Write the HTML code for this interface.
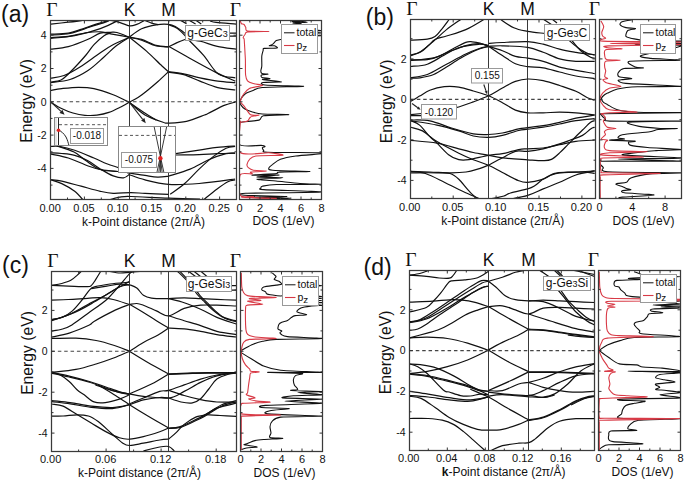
<!DOCTYPE html>
<html><head><meta charset="utf-8"><style>
html,body{margin:0;padding:0;background:#fff;}
svg{display:block;}
text{font-family:"Liberation Sans", sans-serif;fill:#111;}
.ser{font-family:"Liberation Serif", serif;}
</style></head><body>
<svg width="685" height="483" viewBox="0 0 685 483">
<defs></defs>
<clipPath id="cba"><rect x="50.5" y="20.5" width="186.0" height="179.0"/></clipPath>
<clipPath id="cda"><rect x="239.5" y="20.5" width="82.0" height="179.0"/></clipPath>
<g clip-path="url(#cba)" fill="none" stroke="#111" stroke-width="1.2">
<path d="M50.9,24.1C53.8,23.8 63.0,22.8 68.3,22.2C73.5,21.6 79.5,20.8 82.4,20.3C85.4,19.8 85.4,19.2 86.0,19.0"/>
<path d="M98.0,19.0C99.3,19.1 102.8,19.4 106.0,19.8C109.2,20.2 113.1,20.6 117.0,21.6C120.9,22.6 126.1,25.3 129.4,25.8C132.7,26.3 134.3,25.2 136.7,24.4C139.1,23.6 141.9,21.8 143.6,20.9C145.3,20.0 146.4,19.3 147.0,19.0"/>
<path d="M50.9,34.1C53.8,33.9 62.6,34.1 68.3,33.1C74.0,32.1 79.6,29.7 84.9,28.0C90.2,26.3 96.2,24.1 100.3,22.9C104.4,21.6 107.3,21.1 109.3,20.5C111.2,19.9 111.5,19.2 112.0,19.0"/>
<path d="M50.9,35.0C54.1,34.8 63.5,34.8 70.0,33.5C76.5,32.2 83.9,29.0 90.0,27.0C96.1,25.0 103.5,22.9 106.8,21.6C110.1,20.3 109.5,19.4 110.0,19.0"/>
<path d="M50.9,37.6C53.8,37.4 62.2,37.1 68.3,36.3C74.4,35.4 82.2,33.2 87.5,32.5C92.8,31.8 96.5,31.6 100.3,31.8C104.1,32.0 105.8,32.9 110.6,33.8C115.4,34.7 126.3,36.6 129.4,37.2"/>
<path d="M50.9,38.3C54.9,37.9 66.5,37.3 74.7,35.7C82.9,34.1 93.5,31.0 100.3,28.6C107.1,26.2 112.8,23.2 115.8,21.6C118.8,20.0 117.9,19.4 118.3,19.0"/>
<path d="M50.9,49.2C53.8,48.8 62.2,48.2 68.3,46.6C74.4,45.0 82.2,41.8 87.5,39.5C92.8,37.2 96.5,34.3 100.3,33.1C104.1,31.9 107.8,32.4 110.6,32.3C113.4,32.2 113.9,31.7 117.0,32.5C120.1,33.3 127.3,36.4 129.4,37.2"/>
<path d="M50.9,78.1C53.1,77.7 59.1,77.3 64.0,75.5C68.8,73.7 74.0,70.8 80.0,67.0C86.0,63.2 94.5,56.7 100.0,53.0C105.5,49.3 108.1,47.3 113.0,44.7C117.9,42.1 126.7,38.5 129.4,37.2"/>
<path d="M50.9,82.6C54.1,82.1 63.8,81.5 70.0,79.5C76.2,77.5 82.3,74.2 88.0,70.5C93.7,66.8 99.3,61.1 104.0,57.0C108.7,52.9 111.8,49.3 116.0,46.0C120.2,42.7 127.2,38.7 129.4,37.2"/>
<path d="M50.9,82.0C52.6,81.7 58.1,81.3 61.0,80.0C63.9,78.7 65.5,76.7 68.3,74.0C71.1,71.3 75.0,67.2 78.0,64.0C81.0,60.8 83.3,58.2 86.0,55.0C88.7,51.8 91.0,47.9 94.0,44.7C97.0,41.5 101.2,37.7 104.0,35.7C106.8,33.8 109.5,33.5 110.6,33.0"/>
<path d="M129.4,37.0C131.4,35.6 137.1,30.7 141.6,28.7C146.1,26.7 151.7,25.5 156.2,24.8C160.7,24.1 165.4,24.1 168.7,24.4C171.9,24.7 172.9,25.3 175.7,26.8C178.5,28.3 183.0,31.7 185.4,33.6C187.8,35.5 189.2,37.3 190.0,38.0"/>
<path d="M168.7,24.8C170.1,25.4 174.6,26.6 177.4,28.5C180.2,30.4 184.1,34.8 185.4,36.1"/>
<path d="M143.6,20.0C145.1,20.6 149.9,22.6 152.3,23.4C154.7,24.2 157.1,24.4 158.0,24.6"/>
<path d="M129.4,37.2C131.4,37.6 137.1,38.0 141.6,39.4C146.1,40.8 151.7,44.1 156.2,45.3C160.7,46.5 166.6,46.5 168.7,46.8"/>
<path d="M129.4,37.2C131.4,37.7 137.1,38.7 141.6,40.2C146.1,41.7 151.7,44.9 156.2,46.0C160.7,47.1 166.6,46.7 168.7,46.8"/>
<path d="M129.4,37.2C132.2,39.5 141.1,46.3 146.5,51.1C151.9,55.9 158.3,62.6 162.0,66.0C165.7,69.4 167.4,70.8 168.5,71.7"/>
<path d="M168.7,46.8C170.2,46.1 174.8,43.6 177.6,42.4C180.4,41.1 184.1,39.8 185.4,39.3"/>
<path d="M168.5,46.3C171.9,48.2 180.7,53.2 188.8,57.7C196.9,62.2 209.6,69.2 217.3,73.1C225.1,77.0 232.3,79.8 235.3,81.1"/>
<path d="M185.4,39.3C187.9,39.6 194.9,40.0 200.2,41.2C205.5,42.4 211.3,45.0 217.3,46.3C223.3,47.6 232.9,48.7 236.0,49.2"/>
<path d="M188.8,40.1C191.3,42.6 198.7,49.8 203.6,55.4C208.5,61.0 213.1,70.3 218.4,74.0C223.7,77.7 232.5,77.2 235.3,77.8"/>
<path d="M178.0,19.0L186.5,23.6"/>
<path d="M187.0,19.0L195.6,24.1"/>
<path d="M194.0,19.0L201.3,24.1"/>
<path d="M210.0,21.0C211.0,21.2 211.8,21.9 216.1,22.4C220.4,22.9 232.7,23.8 236.0,24.1"/>
<path d="M225.0,33.2L236.0,33.2"/>
<path d="M225.0,36.1L236.0,36.1"/>
<path d="M50.9,90.3C52.7,90.0 57.2,89.1 61.8,88.6C66.4,88.1 73.2,87.3 78.5,87.3C83.8,87.3 88.1,87.3 93.9,88.6C99.7,89.8 107.3,92.5 113.2,94.8C119.1,97.1 126.5,101.0 129.2,102.3"/>
<path d="M50.8,102.2C52.5,103.2 57.3,106.4 61.0,108.2C64.7,110.0 68.9,111.8 72.9,113.0C76.9,114.2 80.9,115.0 84.9,115.3C88.9,115.6 92.9,115.6 96.9,115.1C100.9,114.6 104.9,113.8 108.9,112.4C112.9,111.1 117.4,108.7 120.8,107.0C124.2,105.3 127.8,103.1 129.2,102.3"/>
<path d="M129.2,102.3C130.7,101.5 134.9,99.5 138.0,97.5C141.1,95.5 144.7,92.7 148.0,90.0C151.3,87.3 154.6,84.5 158.0,81.5C161.4,78.5 166.8,73.3 168.5,71.7"/>
<path d="M168.5,71.7C171.0,72.0 178.5,72.8 183.7,73.8C188.9,74.8 194.2,76.6 199.9,77.8C205.6,79.0 211.9,80.3 217.8,81.1C223.7,81.9 232.4,82.4 235.3,82.7"/>
<path d="M168.5,72.2C171.0,72.6 178.5,73.1 183.7,74.6C188.9,76.1 194.2,78.9 199.9,81.1C205.6,83.3 211.9,86.1 217.8,87.6C223.7,89.1 232.4,89.6 235.3,90.0"/>
<path d="M129.2,102.3C131.8,104.4 139.4,111.7 145.0,115.0C150.6,118.3 159.1,120.9 163.0,122.2C166.9,123.5 164.5,123.2 168.4,123.1C172.3,122.9 180.5,122.6 186.5,121.3C192.5,120.0 200.9,116.3 204.5,115.0C208.1,113.7 204.7,115.1 208.0,113.5C211.3,111.9 219.6,107.3 224.2,105.4C228.8,103.5 233.5,102.6 235.3,102.1"/>
<path d="M129.2,102.3C131.5,103.9 138.7,109.0 143.2,111.9C147.7,114.9 154.0,118.7 156.2,120.0"/>
<path d="M50.9,146.4C52.3,146.4 55.3,145.8 59.3,146.4C63.3,147.1 68.9,148.4 74.7,150.3C80.5,152.2 88.6,155.8 93.9,158.0C99.2,160.2 102.7,162.1 106.8,163.7C110.9,165.3 116.4,166.9 118.3,167.6"/>
<path d="M57.0,146.0C59.8,147.0 69.3,149.7 74.0,152.0C78.7,154.3 80.6,157.1 85.0,160.0C89.4,162.9 94.8,167.6 100.3,169.5C105.8,171.4 115.3,171.2 118.3,171.5"/>
<path d="M50.9,152.8C52.7,152.9 57.8,153.1 61.8,153.5C65.8,153.9 70.4,154.2 74.7,155.4C79.0,156.6 83.2,158.2 87.5,160.5C91.8,162.8 96.0,166.3 100.3,168.9C104.6,171.5 109.3,174.4 113.2,175.9C117.1,177.4 120.7,178.2 123.5,177.9C126.3,177.6 128.8,174.7 129.9,174.0"/>
<path d="M50.9,154.1C53.8,154.8 62.2,156.1 68.3,158.0C74.4,159.9 82.2,163.8 87.5,165.7C92.8,167.6 95.2,168.5 100.3,169.5C105.4,170.5 115.3,171.2 118.3,171.5"/>
<path d="M50.9,179.8C52.7,180.0 56.8,180.0 61.8,181.1C66.8,182.2 74.7,184.5 81.1,186.2C87.5,187.9 94.9,190.1 100.3,191.3C105.7,192.5 108.1,193.1 113.2,193.3C118.3,193.5 125.7,192.6 131.0,192.6C136.3,192.6 138.8,193.1 145.0,193.4C151.2,193.7 164.5,194.2 168.4,194.3"/>
<path d="M50.9,179.8C52.7,180.4 57.8,181.7 61.8,183.6C65.8,185.5 71.0,188.5 74.7,191.3C78.4,194.2 82.2,199.1 83.7,200.7"/>
<path d="M106.8,200.5C108.9,199.9 115.6,197.8 119.6,197.1C123.6,196.4 122.9,196.3 131.0,196.5C139.1,196.7 156.9,197.8 168.4,198.2C179.9,198.6 194.7,198.9 200.0,199.0"/>
<path d="M175.6,153.7C179.5,153.1 192.2,151.1 199.1,150.1C206.0,149.1 211.1,148.1 217.1,147.4C223.1,146.7 232.1,146.2 235.1,146.0"/>
<path d="M175.6,155.0C179.5,154.9 192.2,154.8 199.1,154.6C206.0,154.4 211.1,153.9 217.1,153.7C223.1,153.5 232.1,153.3 235.1,153.2"/>
<path d="M168.4,176.3C172.0,175.1 183.5,171.8 190.1,169.1C196.7,166.4 202.1,162.6 208.1,160.0C214.1,157.4 221.6,154.8 226.1,153.7C230.6,152.6 233.6,153.3 235.1,153.2"/>
<path d="M170.2,194.3C172.6,192.5 179.9,187.7 184.7,183.5C189.5,179.3 194.3,173.6 199.1,169.1C203.9,164.6 209.0,159.9 213.5,156.4C218.0,152.9 222.5,150.0 226.1,148.3C229.7,146.7 233.6,146.8 235.1,146.5"/>
<path d="M128.8,174.5C131.5,175.4 138.4,178.2 145.0,179.9C151.6,181.6 159.4,183.8 168.4,184.4C177.4,185.0 188.0,184.4 199.1,183.5C210.2,182.6 229.1,179.8 235.1,179.0"/>
<path d="M127.0,172.7C130.0,173.1 139.9,174.7 145.0,175.4C150.1,176.2 153.7,177.0 157.6,177.2C161.5,177.3 166.6,176.5 168.4,176.3"/>
<path d="M202.7,200.5C205.1,198.6 212.9,192.0 217.1,188.9C221.3,185.8 224.9,183.2 227.9,181.7C230.9,180.2 233.9,180.2 235.1,179.9"/>
</g>
<line x1="50.5" y1="101.8" x2="236.5" y2="101.8" stroke="#444" stroke-width="1.1" stroke-dasharray="3.5 2.85"/>
<line x1="129.5" y1="20.5" x2="129.5" y2="199.5" stroke="#222" stroke-width="0.9"/>
<line x1="168.5" y1="20.5" x2="168.5" y2="199.5" stroke="#222" stroke-width="0.9"/>
<g clip-path="url(#cda)" fill="none" stroke-width="1.1" stroke-linejoin="round">
<path d="M306.0,20.8C304.2,20.9 291.9,21.3 292.0,21.5C292.1,21.7 306.9,22.0 307.0,22.2C307.1,22.4 293.8,22.7 293.0,22.9C292.2,23.1 301.4,23.3 301.0,23.6C300.6,23.9 291.6,24.4 290.0,25.0C288.4,25.6 284.1,27.3 288.0,28.0C291.9,28.7 321.2,30.2 321.5,30.6C321.8,31.0 290.0,30.9 290.0,31.2C290.0,31.5 321.6,32.7 321.5,33.0C321.4,33.3 289.0,33.5 289.0,33.8C289.0,34.1 321.8,35.3 321.5,35.6C321.2,35.9 291.6,36.2 287.0,36.4C282.4,36.6 285.7,37.1 285.0,37.5C284.3,37.9 282.6,38.9 281.5,39.3C280.4,39.7 277.4,40.0 276.3,40.6C275.2,41.2 273.7,43.5 272.8,44.1C271.9,44.8 269.1,45.6 269.3,45.8C269.5,46.0 273.5,45.5 274.5,45.8C275.5,46.1 278.4,47.7 277.1,48.0C275.8,48.3 265.8,48.1 264.1,48.4C262.4,48.7 263.5,49.2 263.2,50.2C262.9,51.2 262.0,54.0 261.8,56.0C261.6,58.0 261.9,64.1 261.8,66.0C261.7,67.9 260.8,70.1 260.8,71.0C260.8,71.9 261.1,73.1 262.0,73.5C262.9,73.9 268.1,74.0 268.0,74.2C267.9,74.4 262.2,74.6 261.5,75.0C260.8,75.4 260.9,77.1 262.0,77.5C263.1,77.9 269.9,78.2 270.0,78.5C270.1,78.8 261.1,79.1 262.5,79.5C263.9,79.9 281.4,81.4 281.5,81.8C281.6,82.2 265.1,82.1 263.0,82.5C260.9,82.9 259.9,84.5 265.0,85.0C270.1,85.5 303.9,86.0 303.6,86.3C303.3,86.6 268.7,87.0 262.3,87.5C255.9,88.0 254.4,90.0 252.4,90.7C250.4,91.4 247.7,92.3 246.5,93.0C245.3,93.7 243.7,95.3 243.0,96.0C242.3,96.7 241.6,97.8 241.2,98.5C240.8,99.2 239.8,100.8 239.8,101.7C239.8,102.6 240.6,104.5 241.2,105.4C241.8,106.3 243.5,108.3 244.9,109.1C246.3,109.9 250.2,111.4 252.4,112.0C254.6,112.6 257.8,113.7 262.3,114.0C266.8,114.3 288.6,114.4 288.7,114.6C288.8,114.8 267.1,115.1 263.4,115.8C259.7,116.5 261.9,119.3 259.1,120.1C256.3,120.9 243.6,121.9 241.2,122.2C238.8,122.5 239.7,119.7 239.5,122.5C239.3,125.3 236.8,141.6 239.5,144.5C242.2,147.4 257.9,145.2 261.1,145.4C264.3,145.6 264.8,146.1 265.0,146.4C265.2,146.7 262.6,147.2 262.4,147.7C262.2,148.2 263.1,149.7 263.7,150.3C264.3,150.9 260.3,151.9 267.5,152.2C274.7,152.5 314.8,152.6 321.5,152.8C328.2,153.0 324.7,153.4 321.5,153.8C318.3,154.2 300.9,155.3 295.8,156.0C290.7,156.7 283.3,158.2 280.4,159.3C277.5,160.4 274.1,163.3 272.7,164.4C271.2,165.5 268.8,167.5 268.8,168.2C268.8,168.9 267.6,169.8 272.7,170.2C277.8,170.6 309.1,171.3 309.9,171.5C310.7,171.7 283.3,171.8 279.1,172.1C274.9,172.3 279.9,173.1 276.5,173.5C273.1,173.9 251.7,175.0 252.0,175.2C252.3,175.4 278.4,174.8 279.0,175.0C279.6,175.2 256.5,176.7 257.0,177.0C257.5,177.3 283.0,177.5 283.0,177.8C283.0,178.1 257.9,178.8 257.0,179.2C256.1,179.6 270.6,180.5 276.0,181.0C281.4,181.5 294.3,183.1 300.0,183.5C305.7,183.9 324.4,184.2 321.5,184.3C318.6,184.4 283.9,184.3 276.5,184.5C269.1,184.7 264.3,185.8 262.4,186.2C260.5,186.6 260.9,187.7 261.1,188.1C261.3,188.5 256.1,189.1 263.7,189.6C271.2,190.1 323.8,191.5 321.5,192.0C319.2,192.5 255.3,192.9 245.7,193.3C236.1,193.7 239.3,194.8 244.4,195.2C249.5,195.6 286.5,196.3 286.8,196.5C287.1,196.7 246.6,196.9 247.0,197.1C247.4,197.3 289.6,197.9 290.0,198.2C290.4,198.5 255.0,199.3 250.0,199.5" stroke="#111"/>
<path d="M240.3,21.0C240.5,21.3 241.0,23.3 241.5,23.7C242.0,24.1 243.6,24.0 244.1,24.5C244.6,25.0 245.4,26.8 245.8,27.6C246.2,28.4 244.7,30.5 247.6,31.0C250.5,31.5 269.3,31.4 269.3,31.5C269.3,31.6 250.6,31.5 247.6,31.9C244.6,32.3 245.6,33.8 245.0,34.5C244.4,35.2 243.3,37.1 243.2,37.6C243.1,38.1 243.9,38.1 244.1,38.9C244.3,39.7 244.4,42.4 244.5,44.1C244.6,45.8 244.9,50.8 245.0,52.8C245.1,54.8 245.3,57.2 245.4,60.0C245.5,62.8 245.3,72.4 245.6,75.0C245.9,77.6 246.6,79.7 247.5,80.8C248.4,81.9 251.3,83.0 253.2,83.6C255.1,84.2 263.2,84.9 262.7,85.5C262.2,86.1 251.8,87.3 249.4,88.4C247.0,89.5 244.8,92.6 243.7,94.0C242.6,95.4 241.3,98.8 240.9,99.8C240.5,100.8 239.9,101.0 240.3,101.8C240.7,102.6 243.0,104.7 244.3,106.3C245.6,107.9 248.8,113.7 250.7,114.8C252.5,115.9 259.1,114.9 259.1,115.2C259.1,115.5 252.1,116.2 250.7,116.9C249.2,117.6 248.7,120.4 247.5,121.1C246.3,121.8 242.1,122.0 241.2,122.2C240.3,122.4 240.4,119.2 240.3,123.0C240.2,126.8 236.7,148.8 240.3,152.5C243.9,156.2 263.5,152.5 268.8,152.8C274.1,153.1 284.5,154.7 282.9,155.1C281.3,155.5 260.2,155.5 256.0,156.0C251.8,156.5 250.7,158.2 249.6,159.3C248.5,160.4 247.2,163.4 247.0,164.4C246.8,165.4 247.5,166.9 248.3,167.6C249.1,168.3 251.2,169.8 253.4,170.2C255.6,170.6 266.5,170.9 266.2,171.1C265.9,171.3 252.6,171.7 250.8,172.1C249.0,172.5 253.4,173.7 252.1,174.0C250.8,174.3 241.8,172.0 240.3,174.7C238.8,177.3 238.7,192.5 240.3,195.2C241.9,197.9 253.2,196.3 253.4,196.5C253.6,196.7 239.0,196.9 241.9,197.1C244.8,197.3 276.7,198.1 276.5,198.4C276.3,198.7 244.8,199.4 240.3,199.5" stroke="#d83a46"/>
</g>
<rect x="50.5" y="20.5" width="186.0" height="179.0" fill="none" stroke="#3a3a3a" stroke-width="1.25"/>
<rect x="239.5" y="20.5" width="82.0" height="179.0" fill="none" stroke="#3a3a3a" stroke-width="1.25"/>
<path d="M50.5,185.1h2M236.5,185.1h-2M239.5,185.1h2M321.5,185.1h-2M50.5,168.4h3M236.5,168.4h-3M239.5,168.4h3M321.5,168.4h-3M50.5,151.8h2M236.5,151.8h-2M239.5,151.8h2M321.5,151.8h-2M50.5,135.1h3M236.5,135.1h-3M239.5,135.1h3M321.5,135.1h-3M50.5,118.4h2M236.5,118.4h-2M239.5,118.4h2M321.5,118.4h-2M50.5,101.8h3M236.5,101.8h-3M239.5,101.8h3M321.5,101.8h-3M50.5,85.2h2M236.5,85.2h-2M239.5,85.2h2M321.5,85.2h-2M50.5,68.5h3M236.5,68.5h-3M239.5,68.5h3M321.5,68.5h-3M50.5,51.9h2M236.5,51.9h-2M239.5,51.9h2M321.5,51.9h-2M50.5,35.2h3M236.5,35.2h-3M239.5,35.2h3M321.5,35.2h-3M67.5,199.5v-2M67.5,20.5v2M84.4,199.5v-3M84.4,20.5v3M101.3,199.5v-2M101.3,20.5v2M118.2,199.5v-3M118.2,20.5v3M135.1,199.5v-2M135.1,20.5v2M152.0,199.5v-3M152.0,20.5v3M168.9,199.5v-2M168.9,20.5v2M185.8,199.5v-3M185.8,20.5v3M202.7,199.5v-2M202.7,20.5v2M219.6,199.5v-3M219.6,20.5v3M249.8,199.5v-2M249.8,20.5v2M260.0,199.5v-3M260.0,20.5v3M270.2,199.5v-2M270.2,20.5v2M280.5,199.5v-3M280.5,20.5v3M290.8,199.5v-2M290.8,20.5v2M301.0,199.5v-3M301.0,20.5v3M311.2,199.5v-2M311.2,20.5v2" stroke="#333" stroke-width="1" fill="none"/>
<text x="46.5" y="172.2" text-anchor="end" font-size="10.5">-4</text>
<text x="46.5" y="138.9" text-anchor="end" font-size="10.5">-2</text>
<text x="46.5" y="105.6" text-anchor="end" font-size="10.5">0</text>
<text x="46.5" y="72.3" text-anchor="end" font-size="10.5">2</text>
<text x="46.5" y="39.0" text-anchor="end" font-size="10.5">4</text>
<text x="50.1" y="212.4" text-anchor="middle" font-size="11">0.00</text>
<text x="83.9" y="212.4" text-anchor="middle" font-size="11">0.05</text>
<text x="117.7" y="212.4" text-anchor="middle" font-size="11">0.10</text>
<text x="151.5" y="212.4" text-anchor="middle" font-size="11">0.15</text>
<text x="185.3" y="212.4" text-anchor="middle" font-size="11">0.20</text>
<text x="219.1" y="212.4" text-anchor="middle" font-size="11">0.25</text>
<text x="239.5" y="212.4" text-anchor="middle" font-size="11">0</text>
<text x="260.0" y="212.4" text-anchor="middle" font-size="11">2</text>
<text x="280.5" y="212.4" text-anchor="middle" font-size="11">4</text>
<text x="301.0" y="212.4" text-anchor="middle" font-size="11">6</text>
<text x="321.5" y="212.4" text-anchor="middle" font-size="11">8</text>
<text x="143.4" y="225.8" text-anchor="middle" font-size="12">k-Point distance (2π/Å)</text>
<text x="283.6" y="225.3" text-anchor="middle" font-size="12">DOS (1/eV)</text>
<text transform="translate(31.5,100.8) rotate(-90)" text-anchor="middle" font-size="15.7">Energy (eV)</text>
<text x="52.0" y="15.7" text-anchor="middle" class="ser" font-size="19.5">Γ</text>
<text x="235.5" y="15.7" text-anchor="middle" class="ser" font-size="19.5">Γ</text>
<text x="129.5" y="15.7" text-anchor="middle" font-size="17.5">K</text>
<text x="168.5" y="15.7" text-anchor="middle" font-size="17.5">M</text>
<text x="1" y="22.0" font-size="23">(a)</text>
<rect x="185.5" y="25.5" width="44.0" height="15.0" fill="#fff" stroke="#999" stroke-width="1"/>
<text x="207.5" y="37.0" text-anchor="middle" font-size="12">g-GeC<tspan font-size="9">3</tspan></text>
<rect x="281.5" y="24.5" width="36.0" height="29.0" fill="#fff" stroke="#999" stroke-width="1"/>
<line x1="284.0" y1="32.8" x2="294.5" y2="32.8" stroke="#111" stroke-width="1"/>
<line x1="284.0" y1="45.5" x2="294.5" y2="45.5" stroke="#d83a46" stroke-width="1.1"/>
<text x="296.5" y="36.3" font-size="10.5">total</text>
<text x="296.5" y="48.5" font-size="10.5">p<tspan font-size="9.8" dy="2">z</tspan></text>
<clipPath id="cbb"><rect x="410.5" y="19.5" width="185.0" height="179.0"/></clipPath>
<clipPath id="cdb"><rect x="599.5" y="19.5" width="82.0" height="179.0"/></clipPath>
<g clip-path="url(#cbb)" fill="none" stroke="#111" stroke-width="1.2">
<path d="M410.6,40.1C413.4,40.0 423.2,39.8 427.3,39.2C431.4,38.6 432.6,38.2 435.0,36.6C437.4,35.0 439.0,32.5 441.4,29.6C443.8,26.8 447.8,21.2 449.1,19.5"/>
<path d="M410.6,55.2C412.3,54.6 417.0,53.8 420.8,51.4C424.6,49.0 429.4,44.7 433.7,41.1C438.0,37.5 442.0,33.2 446.5,29.6C451.0,26.0 458.3,21.2 460.7,19.5"/>
<path d="M410.6,55.8C412.3,55.1 417.9,53.6 421.0,51.8C424.1,50.0 426.7,47.0 429.0,45.0C431.3,43.0 432.1,41.0 435.0,39.5C437.9,38.0 441.4,37.6 446.5,36.0C451.6,34.4 459.6,32.4 465.8,29.6C472.0,26.9 480.8,21.2 483.8,19.5"/>
<path d="M410.6,59.7C413.4,59.7 422.4,60.3 427.3,59.7C432.2,59.1 435.8,57.7 440.1,55.9C444.4,54.1 448.7,51.0 453.0,48.8C457.3,46.5 462.6,43.6 465.8,42.4C469.0,41.2 469.9,41.7 472.2,41.8C474.5,41.9 477.2,42.2 479.9,43.0C482.6,43.8 487.1,45.8 488.5,46.3"/>
<path d="M410.6,60.4C414.5,60.0 427.7,59.1 433.7,57.8C439.7,56.5 441.1,54.7 446.5,52.7C451.9,50.7 460.4,47.1 465.8,45.6C471.2,44.1 474.8,43.7 478.6,43.7C482.4,43.7 486.9,45.3 488.5,45.6"/>
<path d="M410.6,66.5C413.4,66.1 421.7,66.1 427.3,64.2C432.9,62.3 438.6,58.0 444.0,55.2C449.4,52.4 453.6,49.3 459.4,47.5C465.2,45.7 473.8,44.6 478.6,44.3C483.5,44.0 486.9,45.4 488.5,45.6"/>
<path d="M410.6,77.7C413.4,77.2 421.3,76.8 427.3,74.5C433.3,72.2 440.1,67.6 446.5,64.2C452.9,60.8 460.4,56.6 465.8,54.0C471.2,51.4 474.8,50.1 478.6,48.8C482.4,47.5 486.9,46.7 488.5,46.3"/>
<path d="M410.6,78.2C412.2,78.1 416.1,78.4 420.0,77.8C423.9,77.2 429.3,76.3 433.7,74.5C438.1,72.7 442.1,69.7 446.5,67.0C450.9,64.3 455.7,61.0 460.0,58.5C464.3,56.0 468.9,53.6 472.2,52.0C475.5,50.4 477.3,49.7 480.0,48.8C482.7,47.9 487.1,46.9 488.5,46.5"/>
<path d="M500.0,19.0C502.3,20.5 509.2,25.7 513.8,27.8C518.4,29.9 522.5,30.4 527.7,31.4C532.9,32.4 542.0,33.1 544.9,33.5"/>
<path d="M488.5,43.5C490.8,43.3 495.9,42.8 502.4,42.5C508.9,42.2 520.9,41.4 527.7,41.7C534.5,42.0 537.9,43.0 543.2,44.2C548.5,45.4 554.2,47.8 559.6,49.1C565.0,50.5 570.0,51.3 575.9,52.3C581.8,53.2 591.6,54.4 594.7,54.8"/>
<path d="M488.5,46.3C490.8,46.2 495.9,45.6 502.4,45.8C508.9,46.0 520.9,46.3 527.7,47.4C534.5,48.5 537.9,50.4 543.2,52.3C548.5,54.2 554.2,57.4 559.6,58.9C565.0,60.4 570.0,60.9 575.9,61.3C581.8,61.7 591.6,61.3 594.7,61.3"/>
<path d="M488.5,46.3C490.8,47.0 497.9,49.0 502.4,50.7C506.9,52.4 511.2,55.2 515.4,56.4C519.6,57.6 523.1,57.3 527.7,58.1C532.3,58.9 537.9,59.8 543.2,61.3C548.5,62.8 554.2,65.6 559.6,67.1C565.0,68.6 570.0,69.2 575.9,70.3C581.8,71.4 591.6,73.0 594.7,73.6"/>
<path d="M488.5,46.3C490.8,47.8 497.9,52.7 502.4,55.6C506.9,58.5 511.2,61.9 515.4,63.8C519.6,65.6 523.1,66.0 527.7,66.7C532.3,67.4 537.9,67.0 543.2,67.9C548.5,68.8 554.2,70.7 559.6,72.0C565.0,73.3 570.0,74.9 575.9,76.0C581.8,77.1 591.6,78.1 594.7,78.5"/>
<path d="M567.8,39.3C569.4,40.6 574.3,45.1 577.6,47.4C580.9,49.7 584.5,52.0 587.4,53.2C590.2,54.4 593.5,54.5 594.7,54.8"/>
<path d="M571.0,39.3C572.6,41.2 577.5,47.7 580.8,50.7C584.1,53.7 588.3,56.0 590.6,57.2C592.9,58.4 594.0,58.0 594.7,58.1"/>
<path d="M543.0,19.0L551.4,24.5"/>
<path d="M552.0,19.0L557.0,23.0"/>
<path d="M410.9,101.2C412.3,100.3 416.5,97.9 419.6,96.1C422.8,94.3 425.7,91.9 429.8,90.3C433.9,88.7 439.5,87.2 444.3,86.7C449.1,86.2 454.0,86.4 458.8,87.1C463.6,87.8 468.4,89.5 473.3,91.0C478.2,92.5 483.6,93.8 488.5,95.8C493.4,97.8 497.9,100.3 502.4,102.7C506.9,105.1 511.2,108.4 515.4,110.1C519.6,111.8 523.1,112.3 527.7,112.8C532.3,113.2 537.9,112.9 543.2,112.8C548.5,112.7 554.2,112.2 559.6,112.2C565.0,112.2 570.0,112.3 575.9,112.8C581.8,113.3 591.6,114.6 594.7,115.0"/>
<path d="M421.8,108.5C424.8,108.7 434.3,109.6 440.0,109.5C445.7,109.4 450.3,109.0 455.9,107.7C461.4,106.4 467.9,103.9 473.3,101.9C478.7,99.9 483.6,98.1 488.5,95.8C493.4,93.5 497.9,90.4 502.4,88.0C506.9,85.6 511.2,82.9 515.4,81.4C519.6,79.9 523.1,79.1 527.7,79.0C532.3,78.9 537.9,79.5 543.2,80.6C548.5,81.7 554.2,83.7 559.6,85.5C565.0,87.3 571.3,89.2 575.9,91.3C580.5,93.3 584.3,96.3 587.4,97.8C590.5,99.3 593.5,99.8 594.7,100.2"/>
<path d="M410.9,115.7L421.8,115.7"/>
<path d="M410.9,114.6L421.8,113.5"/>
<path d="M410.9,120.0C414.0,120.1 423.0,119.5 429.8,120.8C436.6,122.1 444.2,125.8 451.5,128.0C458.8,130.2 467.1,132.7 473.3,133.8C479.5,134.9 483.6,134.6 488.5,134.5C493.4,134.4 497.4,133.9 502.4,133.0C507.4,132.1 514.5,129.8 518.7,128.9C522.9,128.0 523.6,128.2 527.7,127.6C531.8,127.0 537.9,126.5 543.2,125.6C548.5,124.7 554.2,123.5 559.6,122.3C565.0,121.1 570.0,119.4 575.9,118.2C581.8,117.0 591.6,115.5 594.7,115.0"/>
<path d="M410.9,120.8C415.2,121.5 429.0,123.4 437.0,125.1C445.0,126.8 452.8,129.1 458.8,130.9C464.9,132.7 468.4,134.9 473.3,136.0C478.2,137.1 483.6,137.5 488.5,137.4C493.4,137.3 497.4,136.6 502.4,135.4C507.4,134.2 514.5,131.5 518.7,130.5C522.9,129.5 523.6,129.8 527.7,129.2C531.8,128.6 537.9,128.1 543.2,127.2C548.5,126.3 554.2,125.1 559.6,124.0C565.0,122.9 570.0,121.6 575.9,120.7C581.8,119.8 591.6,119.0 594.7,118.7"/>
<path d="M410.9,127.3C412.8,127.9 418.1,128.5 422.5,130.9C426.9,133.3 430.9,137.9 437.0,141.6C443.1,145.3 452.8,150.2 458.8,153.2C464.9,156.2 468.4,157.7 473.3,159.7C478.2,161.7 483.6,163.1 488.5,165.2C493.4,167.3 497.4,169.9 502.4,172.5C507.4,175.1 514.5,179.1 518.7,180.7C522.9,182.3 523.6,182.6 527.7,182.3C531.8,182.0 539.2,180.3 543.2,179.1C547.2,177.9 548.7,176.1 551.4,175.0C554.1,173.9 555.5,173.3 559.6,172.8C563.7,172.3 570.0,172.5 575.9,172.2C581.8,171.9 591.6,171.1 594.7,170.9"/>
<path d="M410.9,120.8C412.3,121.5 416.5,122.4 419.6,125.1C422.8,127.8 426.9,133.7 429.8,136.7C432.7,139.7 433.9,140.1 437.0,143.1C440.1,146.1 445.0,151.9 448.6,154.7C452.2,157.5 455.4,158.9 458.8,159.7C462.2,160.5 463.9,160.4 468.9,159.7C473.8,159.0 482.9,156.3 488.5,155.3C494.1,154.3 497.4,154.6 502.4,153.7C507.4,152.8 514.5,150.4 518.7,149.6C522.9,148.8 523.6,149.1 527.7,148.8C531.8,148.5 537.9,148.7 543.2,148.0C548.5,147.3 554.2,145.8 559.6,144.7C565.0,143.6 570.0,142.2 575.9,141.4C581.8,140.6 591.6,140.3 594.7,140.1"/>
<path d="M410.9,140.4C415.2,140.8 429.0,141.7 437.0,143.1C445.0,144.5 452.8,147.3 458.8,148.9C464.9,150.5 468.4,151.4 473.3,152.5C478.2,153.6 483.6,154.4 488.5,155.3C493.4,156.2 495.9,157.1 502.4,157.8C508.9,158.6 520.9,159.3 527.7,159.8C534.5,160.3 539.2,160.8 543.2,160.7C547.2,160.6 548.7,160.7 551.4,159.4C554.1,158.1 556.9,155.4 559.6,152.9C562.3,150.4 565.1,147.4 567.8,144.7C570.5,142.0 573.4,138.9 575.9,136.5C578.4,134.1 580.0,132.4 582.5,130.0C585.0,127.6 588.6,123.8 590.6,122.3C592.6,120.8 594.0,121.0 594.7,120.7"/>
<path d="M488.5,165.2C490.8,164.0 497.9,160.1 502.4,157.8C506.9,155.5 511.2,152.4 515.4,151.3C519.6,150.2 523.1,151.7 527.7,151.3C532.3,150.9 537.9,150.0 543.2,148.8C548.5,147.6 555.0,145.4 559.6,143.9C564.2,142.4 567.2,141.2 571.0,139.8C574.8,138.4 579.2,137.2 582.5,135.4C585.8,133.6 588.6,130.3 590.6,128.9C592.6,127.5 594.0,127.5 594.7,127.2"/>
<path d="M410.9,171.3C414.0,171.4 423.0,171.8 429.8,172.0C436.6,172.2 445.5,172.8 451.5,172.8C457.5,172.8 461.6,172.6 466.0,172.0C470.4,171.4 473.9,170.3 477.6,169.2C481.4,168.1 486.7,165.9 488.5,165.2"/>
<path d="M410.9,172.8C415.2,172.8 430.5,172.7 437.0,172.8C443.5,172.9 446.4,172.4 450.0,173.5C453.6,174.6 455.7,176.4 458.8,179.3C461.9,182.2 465.8,187.8 468.9,190.9C472.0,194.1 474.3,196.9 477.6,198.2C480.9,199.5 485.1,199.0 488.5,198.9C491.9,198.8 495.3,197.9 497.9,197.4C500.5,196.9 501.9,196.7 504.0,196.0C506.1,195.3 506.6,194.2 510.5,193.0C514.5,191.8 523.6,190.1 527.7,188.9C531.8,187.7 532.4,187.2 535.0,185.6C537.6,184.0 539.9,181.1 543.2,179.1C546.5,177.1 550.6,174.5 554.7,173.3C558.8,172.2 562.9,172.4 567.8,172.2C572.7,172.0 579.6,172.0 584.1,172.2C588.6,172.4 592.9,173.1 594.7,173.3"/>
<path d="M410.9,171.3C413.3,171.7 419.8,171.7 425.4,173.5C431.0,175.3 438.7,179.5 444.3,182.2C449.9,184.9 454.0,187.2 458.8,189.5C463.6,191.8 469.6,194.3 473.3,196.0C477.0,197.7 479.7,198.9 481.0,199.5"/>
<path d="M508.0,199.5C511.3,198.8 521.8,197.2 527.7,195.4C533.6,193.6 537.9,191.1 543.2,188.9C548.5,186.7 554.2,184.6 559.6,182.3C565.0,180.0 570.0,176.9 575.9,175.0C581.8,173.1 591.6,171.6 594.7,170.9"/>
</g>
<line x1="410.5" y1="99.4" x2="595.5" y2="99.4" stroke="#444" stroke-width="1.1" stroke-dasharray="3.5 2.85"/>
<line x1="488.5" y1="19.5" x2="488.5" y2="198.5" stroke="#222" stroke-width="0.9"/>
<line x1="527.5" y1="19.5" x2="527.5" y2="198.5" stroke="#222" stroke-width="0.9"/>
<g clip-path="url(#cdb)" fill="none" stroke-width="1.1" stroke-linejoin="round">
<path d="M631.7,19.9C630.5,20.1 623.5,21.2 622.0,21.8C620.5,22.4 619.6,24.0 620.1,24.7C620.6,25.4 624.0,27.1 625.9,27.6C627.8,28.1 635.3,28.2 635.5,28.6C635.7,29.0 629.0,29.5 627.8,30.5C626.6,31.5 625.5,35.3 625.9,36.3C626.3,37.3 629.5,37.9 630.7,38.2C631.9,38.6 633.7,38.8 635.5,39.1C637.3,39.4 639.2,40.2 645.0,40.5C650.8,40.8 682.1,41.0 681.5,41.2C680.9,41.5 640.0,42.2 640.0,42.5C640.0,42.8 682.1,43.2 681.5,43.5C680.9,43.8 635.0,44.2 635.0,44.5C635.0,44.8 680.7,44.1 681.5,45.5C682.3,46.9 645.1,53.9 641.3,55.5C637.5,57.1 646.1,57.8 650.9,58.4C655.7,59.0 682.4,59.9 679.8,60.3C677.1,60.7 635.2,60.4 629.7,61.3C624.2,62.1 633.8,66.3 635.5,67.1C637.2,67.9 644.6,67.8 643.2,68.0C641.8,68.2 627.1,67.9 624.0,68.5C620.9,69.1 618.8,71.8 618.2,72.8C617.6,73.8 617.4,76.0 619.1,76.7C620.8,77.4 631.3,78.2 631.7,78.6C632.1,79.0 623.7,79.4 622.0,79.6C620.3,79.8 617.7,80.0 618.2,80.5C618.7,81.0 618.0,82.7 625.9,83.4C633.8,84.1 680.3,85.9 681.7,86.3C683.1,86.7 645.4,86.5 637.4,86.8C629.4,87.1 621.2,88.2 617.5,89.0C613.8,89.8 609.5,92.2 607.6,93.1C605.7,94.0 603.4,95.7 602.6,96.5C601.8,97.3 601.4,98.5 601.5,99.2C601.6,99.9 602.7,101.6 603.5,102.3C604.3,103.0 605.9,103.8 607.6,104.7C609.4,105.6 613.8,108.8 617.5,109.7C621.2,110.7 629.4,111.9 637.4,112.3C645.4,112.7 685.7,112.5 681.4,112.7C677.1,112.9 613.3,113.4 603.3,113.7C593.3,114.0 600.9,114.1 601.2,114.8C601.5,115.5 604.3,118.2 605.4,119.0C606.5,119.8 600.2,120.8 609.7,121.1C619.2,121.4 679.0,121.0 681.4,121.1C683.8,121.2 634.0,121.5 628.7,122.2C623.4,122.9 635.2,125.6 639.2,126.4C643.2,127.2 655.5,128.2 660.3,128.5C665.0,128.8 677.5,128.4 677.2,128.5C676.9,128.6 661.6,129.1 658.2,129.5C654.8,129.9 654.3,131.0 649.8,131.7C645.3,132.4 626.3,134.0 622.3,134.8C618.3,135.6 617.8,137.5 618.1,138.0C618.4,138.5 625.4,138.7 624.4,139.0C623.4,139.3 608.4,139.8 609.7,140.1C611.0,140.4 632.6,140.8 635.0,141.1C637.4,141.4 629.2,141.7 628.7,142.2C628.2,142.7 628.4,144.7 630.8,145.4C633.2,146.1 641.3,147.0 647.6,147.5C653.9,148.0 680.3,149.2 681.4,149.6C682.5,150.0 663.5,149.9 656.1,150.6C648.7,151.3 619.1,154.0 622.3,154.9C625.5,155.8 681.9,157.5 681.4,158.0C680.9,158.5 618.1,158.7 618.1,159.1C618.1,159.5 683.5,160.9 681.4,161.2C679.3,161.5 611.4,160.9 601.2,161.2C591.0,161.5 599.2,162.5 599.5,163.3C599.8,164.1 602.3,166.4 603.3,167.5C604.3,168.6 597.8,171.0 607.6,171.7C617.4,172.4 676.1,172.5 681.4,172.8C686.7,173.1 656.1,173.2 649.8,173.9C643.5,174.6 633.7,177.0 630.8,178.1C627.9,179.2 628.1,181.6 626.5,182.3C624.9,183.0 619.4,183.1 618.1,183.4C616.8,183.7 615.5,184.0 616.0,184.4C616.5,184.8 621.0,186.0 622.3,186.5C623.6,187.0 625.4,188.2 626.5,188.6C627.6,189.0 631.3,189.4 630.8,189.7C630.3,190.0 623.1,190.3 622.3,190.7C621.5,191.1 620.4,192.3 624.4,192.8C628.4,193.3 654.3,194.5 654.0,195.0C653.7,195.5 626.8,196.7 622.3,197.1C617.8,197.5 618.6,198.3 618.1,198.5" stroke="#111"/>
<path d="M600.9,20.9C601.2,21.6 603.6,25.2 603.7,26.6C603.8,28.0 601.9,31.2 601.8,32.4C601.7,33.6 602.3,35.6 602.8,36.3C603.3,37.0 605.7,37.6 605.7,38.2C605.7,38.8 593.3,40.6 602.8,41.1C612.3,41.6 680.6,41.7 681.5,42.0C682.4,42.3 610.0,43.2 610.0,43.5C610.0,43.8 681.7,44.2 681.5,44.5C681.3,44.8 617.8,45.5 608.6,45.9C599.4,46.3 605.9,47.4 607.6,47.8C609.3,48.2 622.2,48.6 622.0,48.8C621.8,49.0 607.9,48.9 605.7,49.7C603.5,50.5 604.6,54.3 604.7,55.5C604.8,56.7 604.7,58.8 606.6,59.4C608.5,60.0 620.2,60.1 620.1,60.3C620.0,60.5 607.6,60.4 605.7,61.3C603.8,62.1 604.7,65.9 604.7,67.1C604.7,68.3 605.7,69.7 605.7,70.9C605.7,72.1 604.5,75.7 604.7,76.7C604.9,77.7 607.8,78.2 607.6,78.6C607.4,79.0 603.0,79.1 602.8,79.6C602.6,80.1 605.0,82.0 605.7,82.5C606.4,83.0 606.7,82.9 608.6,83.4C610.5,83.9 620.8,85.7 620.9,86.3C621.0,86.9 611.6,87.4 609.3,88.2C607.0,89.0 603.8,91.8 602.6,93.1C601.5,94.4 600.1,97.5 600.1,99.0C600.1,100.5 601.5,103.4 602.6,104.7C603.8,106.0 605.0,108.8 609.3,109.7C613.6,110.6 637.0,111.6 637.1,112.0C637.2,112.4 614.2,112.5 609.7,112.7C605.2,112.9 602.0,113.4 601.2,113.7C600.4,114.0 602.8,114.3 603.3,114.8C603.8,115.3 605.4,117.1 605.4,117.9C605.4,118.7 603.3,120.2 603.3,121.1C603.3,122.0 604.9,124.5 605.4,125.3C605.9,126.1 606.3,127.0 607.6,127.4C608.9,127.8 616.0,128.2 616.0,128.5C616.0,128.8 609.1,129.1 607.6,129.5C606.1,129.9 604.7,131.0 604.4,131.7C604.1,132.4 605.8,133.9 605.4,134.8C605.0,135.7 600.9,138.3 601.2,139.0C601.5,139.7 607.1,139.7 607.6,140.1C608.1,140.5 605.8,141.3 605.4,142.2C605.0,143.1 603.9,146.4 604.4,147.5C604.9,148.6 604.3,150.1 609.7,150.6C615.1,151.1 647.6,151.4 647.6,151.7C647.6,152.0 615.5,152.4 609.7,152.8C603.9,153.2 597.0,154.4 601.2,154.9C605.4,155.4 643.1,156.6 643.4,157.0C643.7,157.4 608.6,157.6 603.3,158.0C598.0,158.4 601.6,159.7 601.2,160.1C600.8,160.5 600.3,159.8 600.3,161.2C600.3,162.6 600.6,170.2 601.2,171.7C601.8,173.1 598.0,172.6 605.4,172.8C612.8,173.0 660.6,173.1 660.3,173.4C660.0,173.7 610.8,174.3 603.3,174.9C595.8,175.5 600.7,175.2 600.3,178.1C599.9,181.0 600.3,195.9 600.3,198.5" stroke="#d83a46"/>
</g>
<rect x="410.5" y="19.5" width="185.0" height="179.0" fill="none" stroke="#3a3a3a" stroke-width="1.25"/>
<rect x="599.5" y="19.5" width="82.0" height="179.0" fill="none" stroke="#3a3a3a" stroke-width="1.25"/>
<path d="M410.5,180.4h3M595.5,180.4h-3M599.5,180.4h3M681.5,180.4h-3M410.5,160.2h2M595.5,160.2h-2M599.5,160.2h2M681.5,160.2h-2M410.5,139.9h3M595.5,139.9h-3M599.5,139.9h3M681.5,139.9h-3M410.5,119.7h2M595.5,119.7h-2M599.5,119.7h2M681.5,119.7h-2M410.5,99.4h3M595.5,99.4h-3M599.5,99.4h3M681.5,99.4h-3M410.5,79.2h2M595.5,79.2h-2M599.5,79.2h2M681.5,79.2h-2M410.5,58.9h3M595.5,58.9h-3M599.5,58.9h3M681.5,58.9h-3M410.5,38.7h2M595.5,38.7h-2M599.5,38.7h2M681.5,38.7h-2M431.8,198.5v-2M431.8,19.5v2M453.2,198.5v-3M453.2,19.5v3M474.7,198.5v-2M474.7,19.5v2M496.1,198.5v-3M496.1,19.5v3M517.5,198.5v-2M517.5,19.5v2M539.0,198.5v-3M539.0,19.5v3M560.5,198.5v-2M560.5,19.5v2M581.9,198.5v-3M581.9,19.5v3M615.9,198.5v-2M615.9,19.5v2M632.3,198.5v-3M632.3,19.5v3M648.7,198.5v-2M648.7,19.5v2M665.1,198.5v-3M665.1,19.5v3" stroke="#333" stroke-width="1" fill="none"/>
<text x="406.5" y="184.2" text-anchor="end" font-size="10.5">-4</text>
<text x="406.5" y="143.7" text-anchor="end" font-size="10.5">-2</text>
<text x="406.5" y="103.2" text-anchor="end" font-size="10.5">0</text>
<text x="406.5" y="62.7" text-anchor="end" font-size="10.5">2</text>
<text x="409.8" y="211.4" text-anchor="middle" font-size="11">0.00</text>
<text x="452.7" y="211.4" text-anchor="middle" font-size="11">0.05</text>
<text x="495.6" y="211.4" text-anchor="middle" font-size="11">0.10</text>
<text x="538.5" y="211.4" text-anchor="middle" font-size="11">0.15</text>
<text x="581.4" y="211.4" text-anchor="middle" font-size="11">0.20</text>
<text x="599.5" y="211.4" text-anchor="middle" font-size="11">0</text>
<text x="632.3" y="211.4" text-anchor="middle" font-size="11">4</text>
<text x="665.1" y="211.4" text-anchor="middle" font-size="11">8</text>
<text x="502.7" y="225.3" text-anchor="middle" font-size="12">k-Point distance (2π/Å)</text>
<text x="643.6" y="224.8" text-anchor="middle" font-size="12">DOS (1/eV)</text>
<text transform="translate(391.5,101.4) rotate(-90)" text-anchor="middle" font-size="15.7">Energy (eV)</text>
<text x="412.0" y="14.7" text-anchor="middle" class="ser" font-size="19.5">Γ</text>
<text x="594.5" y="14.7" text-anchor="middle" class="ser" font-size="19.5">Γ</text>
<text x="488.5" y="14.7" text-anchor="middle" font-size="17.5">K</text>
<text x="527.5" y="14.7" text-anchor="middle" font-size="17.5">M</text>
<text x="365.8" y="25.0" font-size="23">(b)</text>
<rect x="544.5" y="24.5" width="45.0" height="16.0" fill="#fff" stroke="#999" stroke-width="1"/>
<text x="567.0" y="37.0" text-anchor="middle" font-size="12">g-Ge<tspan font-size="9">3</tspan>C</text>
<rect x="640.5" y="24.5" width="35.0" height="29.0" fill="#fff" stroke="#999" stroke-width="1"/>
<line x1="643.0" y1="32.8" x2="653.5" y2="32.8" stroke="#111" stroke-width="1"/>
<line x1="643.0" y1="45.5" x2="653.5" y2="45.5" stroke="#d83a46" stroke-width="1.1"/>
<text x="655.5" y="36.3" font-size="10.5">total</text>
<text x="655.5" y="48.5" font-size="10.5">p<tspan font-size="9.8" dy="2">z</tspan></text>
<clipPath id="cbc"><rect x="51.5" y="271.5" width="185.0" height="180.0"/></clipPath>
<clipPath id="cdc"><rect x="240.5" y="271.5" width="82.0" height="180.0"/></clipPath>
<g clip-path="url(#cbc)" fill="none" stroke="#111" stroke-width="1.2">
<path d="M51.6,285.4C53.3,285.1 58.6,284.4 61.8,283.5C65.0,282.6 68.2,281.7 70.8,280.3C73.4,278.9 75.6,276.6 77.3,275.1C79.0,273.6 80.4,272.1 81.0,271.5"/>
<path d="M51.6,285.4C54.4,285.5 62.3,285.9 68.3,286.1C74.3,286.3 83.7,286.8 87.5,286.7C91.3,286.6 90.1,286.5 91.4,285.4C92.7,284.3 93.7,282.6 95.2,280.3C96.7,278.0 99.7,273.0 100.6,271.5"/>
<path d="M91.4,288.6C94.0,288.2 102.1,286.9 106.8,286.1C111.5,285.4 115.8,284.3 119.6,284.1C123.3,283.9 127.7,284.7 129.3,284.8"/>
<path d="M51.6,300.2C54.4,300.1 62.3,299.8 68.3,299.5C74.3,299.2 82.2,298.6 87.5,298.3C92.8,298.0 96.1,297.4 100.4,297.6C104.7,297.8 108.4,298.4 113.2,299.5C118.0,300.6 126.6,303.7 129.3,304.5"/>
<path d="M51.6,319.4C53.3,319.1 58.4,318.9 61.8,317.5C65.2,316.1 68.7,314.1 72.1,311.1C75.5,308.1 79.4,303.1 82.4,299.5C85.4,295.9 88.0,291.4 90.1,289.3C92.2,287.2 91.9,287.6 95.2,286.7C98.5,285.8 104.3,284.8 110.0,284.0C115.7,283.2 126.1,282.5 129.3,282.2"/>
<path d="M51.6,320.1C54.4,319.2 62.3,317.6 68.3,315.0C74.3,312.4 81.1,308.1 87.5,304.7C93.9,301.3 101.5,297.4 106.8,294.4C112.1,291.4 115.8,288.3 119.6,286.7C123.3,285.1 127.7,285.1 129.3,284.8"/>
<path d="M51.6,320.7C55.5,319.3 67.6,315.5 74.7,312.4C81.8,309.3 87.6,305.8 94.0,302.1C100.4,298.5 107.3,293.9 113.2,290.5C119.1,287.1 126.6,283.1 129.3,281.6"/>
<path d="M51.6,331.1C53.4,330.8 59.1,330.0 62.5,329.0C65.9,328.0 67.7,327.6 71.9,325.0C76.1,322.4 81.7,317.9 87.5,313.7C93.3,309.4 101.5,304.2 106.8,299.5C112.1,294.8 115.8,289.7 119.6,285.4C123.3,281.1 127.1,276.2 129.3,273.9C131.5,271.6 132.4,271.9 133.0,271.5"/>
<path d="M51.6,337.1C54.5,336.4 62.9,335.1 69.2,333.1C75.5,331.1 85.3,326.9 89.4,325.0C93.5,323.1 90.0,323.7 94.0,321.4C98.0,319.1 107.3,313.9 113.2,311.1C119.1,308.3 126.6,305.6 129.3,304.5"/>
<path d="M110.0,271.5C111.7,271.8 116.8,272.9 120.0,273.0C123.2,273.1 126.1,272.6 129.4,272.4C132.7,272.1 138.2,271.6 140.0,271.5"/>
<path d="M129.5,284.7C130.7,285.2 134.5,286.2 136.8,288.0C139.1,289.8 141.0,293.6 143.4,295.3C145.8,297.0 147.3,297.6 151.5,298.1C155.7,298.7 163.2,298.7 168.7,298.6C174.1,298.6 178.9,297.8 184.2,297.8C189.5,297.8 195.1,298.3 200.6,298.6C206.1,298.9 211.0,299.1 216.9,299.4C222.8,299.7 233.0,300.1 236.2,300.2"/>
<path d="M129.5,304.3C130.7,304.2 134.5,303.4 136.8,303.5C139.1,303.6 140.1,304.0 143.4,305.2C146.7,306.4 152.2,309.1 156.4,310.9C160.6,312.7 164.1,316.2 168.7,315.8C173.3,315.4 178.9,310.2 184.2,308.4C189.5,306.6 195.1,305.7 200.6,305.2C206.1,304.7 211.0,305.1 216.9,305.2C222.8,305.3 233.0,305.9 236.2,306.0"/>
<path d="M129.5,304.3C131.8,305.7 138.9,309.8 143.4,312.5C147.9,315.2 152.2,318.1 156.4,320.7C160.6,323.3 166.6,326.8 168.7,328.0"/>
<path d="M168.7,328.0C171.3,328.1 178.9,328.3 184.2,328.9C189.5,329.4 195.1,330.4 200.6,331.3C206.1,332.2 211.0,333.7 216.9,334.6C222.8,335.6 233.0,336.6 236.2,337.0"/>
<path d="M168.7,315.8C171.3,316.6 178.9,319.1 184.2,320.7C189.5,322.3 195.1,323.8 200.6,325.6C206.1,327.4 211.0,329.8 216.9,331.3C222.8,332.8 233.0,334.1 236.2,334.6"/>
<path d="M168.7,298.6C171.3,299.3 178.9,300.9 184.2,302.7C189.5,304.5 195.1,306.8 200.6,309.2C206.1,311.6 211.0,314.9 216.9,317.4C222.8,319.9 233.0,322.9 236.2,324.0"/>
<path d="M177.2,271.0C179.2,273.0 185.8,279.2 189.1,283.1C192.4,287.0 194.9,291.5 197.3,294.5C199.8,297.5 201.4,298.7 203.8,301.1C206.2,303.6 209.0,306.6 212.0,309.2C215.0,311.8 218.5,314.8 221.8,316.6C225.1,318.4 229.2,319.2 231.6,319.9C234.0,320.6 235.4,320.6 236.2,320.7"/>
<path d="M179.6,271.0C181.6,273.1 188.2,279.8 191.6,283.9C195.0,287.9 197.2,292.2 199.8,295.3C202.4,298.4 204.5,300.1 207.1,302.7C209.7,305.3 212.3,308.3 215.3,310.9C218.3,313.5 221.6,316.4 225.1,318.2C228.6,320.0 234.3,321.2 236.2,321.8"/>
<path d="M187.5,270.5L195.5,276.5"/>
<path d="M193.0,270.5L200.5,276.5"/>
<path d="M200.0,270.5L207.5,277.0"/>
<path d="M231.0,285.6L236.5,285.6"/>
<path d="M231.0,290.2L236.5,290.2"/>
<path d="M51.7,338.5C55.7,338.4 68.5,337.9 75.9,338.2C83.3,338.5 89.8,339.3 96.1,340.5C102.4,341.7 108.0,343.4 113.6,345.2C119.2,347.0 126.8,350.2 129.5,351.2"/>
<path d="M51.7,372.4C55.7,371.9 68.5,370.8 75.9,369.4C83.3,368.0 89.8,365.9 96.1,364.0C102.4,362.1 108.0,360.1 113.6,358.0C119.2,355.9 126.8,352.3 129.5,351.2"/>
<path d="M129.5,351.4C131.8,349.9 138.6,345.1 143.4,342.4C148.2,339.7 153.9,337.4 158.1,335.0C162.3,332.6 166.9,329.2 168.7,328.0"/>
<path d="M129.5,351.4C132.6,353.3 141.8,359.1 148.3,362.8C154.8,366.6 165.3,372.0 168.7,373.9"/>
<path d="M168.7,373.9C172.6,373.7 184.4,373.1 192.4,372.9C200.4,372.7 209.6,372.7 216.9,372.6C224.2,372.6 233.0,372.6 236.2,372.6"/>
<path d="M168.7,374.4C172.6,374.2 184.4,373.6 192.4,373.4C200.4,373.2 209.6,373.2 216.9,373.1C224.2,373.1 233.0,373.1 236.2,373.1"/>
<path d="M51.7,372.4C54.6,373.0 62.9,374.6 69.2,376.1C75.5,377.6 82.7,379.5 89.4,381.5C96.1,383.5 104.7,386.6 109.6,388.3C114.5,390.0 115.7,390.5 119.0,391.5C122.3,392.5 127.8,393.7 129.5,394.1"/>
<path d="M51.7,373.2C54.6,373.8 62.9,375.5 69.2,377.0C75.5,378.5 82.7,380.2 89.4,382.3C96.1,384.4 104.7,387.6 109.6,389.3C114.5,391.0 115.7,391.6 119.0,392.5C122.3,393.4 127.8,394.2 129.5,394.6"/>
<path d="M51.7,372.4C53.1,372.8 56.9,373.3 59.8,374.8C62.7,376.3 66.3,379.0 69.2,381.5C72.1,384.0 74.8,387.8 77.3,390.0C79.8,392.2 81.4,392.8 84.2,394.8C87.0,396.8 90.5,400.6 94.0,401.9C97.5,403.2 101.1,403.1 105.3,402.6C109.5,402.1 115.4,400.4 119.4,399.1C123.4,397.8 127.8,395.5 129.5,394.8"/>
<path d="M95.4,385.0C98.2,385.9 106.6,389.1 112.3,390.6C118.0,392.1 126.6,393.5 129.5,394.1"/>
<path d="M98.2,385.0C100.5,386.4 107.1,390.1 112.3,393.4C117.5,396.7 123.5,400.9 129.5,404.7C135.5,408.5 141.8,412.4 148.3,416.3C154.8,420.2 165.3,426.1 168.7,428.0"/>
<path d="M51.8,400.5C54.8,400.9 63.5,401.7 70.1,402.6C76.7,403.5 84.2,405.3 91.2,406.1C98.2,406.9 105.9,407.7 112.3,407.5C118.7,407.3 126.6,405.2 129.5,404.7"/>
<path d="M51.8,401.6C54.8,402.0 63.5,402.9 70.1,403.8C76.7,404.8 84.2,406.5 91.2,407.3C98.2,408.1 105.9,409.0 112.3,408.6C118.7,408.2 126.6,405.4 129.5,404.7"/>
<path d="M51.8,404.0C53.7,404.4 58.9,404.4 63.1,406.1C67.3,407.9 72.4,411.7 77.1,414.5C81.8,417.3 86.5,420.2 91.2,423.0C95.9,425.8 100.6,428.9 105.3,431.4C110.0,433.9 115.4,436.5 119.4,437.8C123.4,439.1 125.5,439.4 129.5,439.2C133.5,439.0 138.4,437.9 143.4,436.7C148.4,435.5 155.5,433.2 159.7,431.8C163.9,430.4 167.2,428.6 168.7,428.0"/>
<path d="M51.8,416.2C53.7,416.2 58.9,416.2 63.1,416.0C67.3,415.8 72.9,414.8 77.1,414.8C81.3,414.8 84.9,414.9 88.4,416.0C91.9,417.1 94.2,418.6 98.2,421.6C102.2,424.6 108.3,430.7 112.3,434.2C116.3,437.7 119.3,440.8 122.2,442.7C125.1,444.6 126.0,445.4 129.5,445.5C133.0,445.6 138.4,444.1 143.4,443.2C148.4,442.3 155.5,440.7 159.7,440.0C163.9,439.3 167.2,439.2 168.7,439.1"/>
<path d="M168.7,373.9C165.8,375.6 158.0,380.7 151.5,384.0C145.0,387.3 133.2,392.2 129.5,393.9"/>
<path d="M129.5,393.9C131.8,394.3 136.9,395.6 143.4,396.3C149.9,397.0 161.9,398.8 168.7,398.0C175.5,397.2 178.9,394.0 184.2,391.4C189.5,388.8 195.1,385.0 200.6,382.4C206.1,379.8 211.4,377.5 216.9,375.9C222.4,374.3 230.6,373.4 233.3,372.9"/>
<path d="M129.5,403.7C131.8,402.8 138.4,400.1 143.4,398.0C148.4,395.9 155.5,392.7 159.7,391.4C163.9,390.1 164.6,391.4 168.7,390.3C172.8,389.2 178.9,386.8 184.2,384.9C189.5,383.0 195.1,380.8 200.6,379.1C206.1,377.5 211.4,376.0 216.9,375.0C222.4,374.0 230.6,373.2 233.3,372.9"/>
<path d="M168.7,390.3C171.3,391.2 178.9,393.9 184.2,395.5C189.5,397.1 195.1,398.5 200.6,399.6C206.1,400.7 211.0,401.6 216.9,402.0C222.8,402.4 233.0,402.0 236.2,402.0"/>
<path d="M168.7,398.0C170.8,398.7 177.1,401.2 181.0,402.0C184.9,402.8 189.1,403.4 192.4,402.9C195.7,402.4 197.9,401.1 200.6,398.8C203.3,396.5 206.1,392.3 208.8,389.0C211.5,385.7 213.6,381.6 216.9,379.1C220.2,376.6 225.2,375.2 228.4,374.2C231.6,373.2 234.9,373.1 236.2,372.9"/>
<path d="M129.5,404.8C131.8,404.0 138.4,401.1 143.4,399.9C148.4,398.7 155.5,397.8 159.7,397.5C163.9,397.2 167.2,397.9 168.7,398.0"/>
<path d="M168.7,428.0C170.5,427.8 175.4,428.0 179.3,426.9C183.2,425.8 188.0,423.2 192.4,421.2C196.8,419.1 200.6,417.3 205.5,414.6C210.4,411.9 216.7,407.1 221.8,404.8C226.9,402.5 233.8,401.4 236.2,400.7"/>
<path d="M168.7,428.5C170.6,428.3 175.9,428.6 180.0,427.5C184.1,426.4 188.7,424.0 193.0,422.0C197.3,420.0 201.2,418.2 206.0,415.5C210.8,412.8 217.0,408.2 222.0,406.0C227.0,403.8 233.8,402.7 236.2,402.0"/>
<path d="M168.7,439.1C169.9,438.0 173.5,435.1 176.1,432.6C178.7,430.2 180.9,427.0 184.2,424.4C187.5,421.8 192.1,418.7 195.7,417.1C199.2,415.5 202.0,416.1 205.5,414.6C209.0,413.1 211.8,410.0 216.9,408.1C222.0,406.2 233.0,404.0 236.2,403.2"/>
<path d="M205.5,414.6C207.9,414.8 214.9,415.2 220.0,415.5C225.1,415.8 233.5,416.2 236.2,416.3"/>
<path d="M143.4,451.0C146.1,450.3 155.5,447.8 159.7,447.0C163.9,446.2 166.2,445.8 168.7,446.5C171.1,447.2 173.4,450.2 174.4,451.0"/>
</g>
<line x1="51.5" y1="351.3" x2="236.5" y2="351.3" stroke="#444" stroke-width="1.1" stroke-dasharray="3.5 2.85"/>
<line x1="129.5" y1="271.5" x2="129.5" y2="451.5" stroke="#222" stroke-width="0.9"/>
<line x1="168.5" y1="271.5" x2="168.5" y2="451.5" stroke="#222" stroke-width="0.9"/>
<g clip-path="url(#cdc)" fill="none" stroke-width="1.1" stroke-linejoin="round">
<path d="M272.3,272.8C272.5,273.0 273.7,274.2 274.2,274.7C274.7,275.2 276.1,276.0 276.1,276.6C276.1,277.2 273.8,278.8 274.2,279.4C274.6,280.0 278.1,280.7 279.0,281.3C279.9,281.9 282.2,283.7 281.8,284.2C281.4,284.7 278.4,284.8 276.1,285.1C273.8,285.5 265.5,286.4 263.7,287.0C261.9,287.6 261.6,289.3 261.8,289.9C262.0,290.5 265.0,291.3 265.6,291.8C266.2,292.3 266.0,293.3 266.6,293.7C267.2,294.1 268.3,294.5 270.4,294.7C272.5,294.9 280.0,296.8 283.7,295.6C287.4,294.4 295.2,286.2 300.0,285.0C304.8,283.8 322.0,285.6 322.0,285.8C322.0,286.1 303.2,286.1 300.0,287.0C296.8,287.9 293.2,291.8 296.0,293.0C298.8,294.2 321.5,295.9 322.0,296.5C322.5,297.1 300.0,297.2 300.0,297.5C300.0,297.8 322.0,298.2 322.0,298.5C322.0,298.8 300.0,299.2 300.0,299.5C300.0,299.8 322.0,300.2 322.0,300.5C322.0,300.8 300.0,301.2 300.0,301.5C300.0,301.8 321.4,302.2 322.0,302.5C322.6,302.8 305.0,303.1 305.0,303.5C305.0,303.9 319.9,305.1 322.0,305.3C324.1,305.5 323.2,305.3 321.8,305.4C320.4,305.5 313.0,305.8 310.4,306.1C307.8,306.4 302.6,307.3 300.9,308.0C299.2,308.7 296.3,311.0 297.0,311.8C297.7,312.6 306.8,314.2 306.6,314.7C306.4,315.2 297.0,315.2 295.1,315.6C293.2,316.0 292.2,316.9 291.3,317.5C290.4,318.1 288.7,319.8 287.5,320.4C286.3,321.0 282.9,321.8 281.8,322.3C280.7,322.8 279.5,323.4 279.0,324.2C278.5,325.0 277.6,328.2 278.0,329.0C278.4,329.8 281.6,330.4 281.8,330.9C282.0,331.4 279.9,332.3 279.9,332.8C279.9,333.3 280.9,334.2 281.8,334.7C282.8,335.2 282.5,336.1 287.5,336.6C292.5,337.1 323.2,338.1 321.8,338.5C320.4,338.9 283.5,339.0 276.1,339.4C268.7,339.8 265.7,340.7 262.8,341.3C259.9,341.9 255.3,343.4 253.2,344.2C251.0,345.0 247.2,347.1 245.6,348.0C244.0,348.9 241.1,350.8 240.5,351.3C239.9,351.8 239.2,351.2 240.5,352.1C241.8,353.0 247.9,356.8 250.8,358.5C253.7,360.2 259.9,364.5 263.6,366.0C267.3,367.5 273.3,369.4 280.6,370.2C287.9,371.0 323.6,372.1 322.0,372.4C320.4,372.7 270.3,372.3 267.8,372.4C265.3,372.5 298.4,373.0 301.9,373.4C305.4,373.8 296.6,374.8 295.5,375.6C294.4,376.4 293.5,378.6 293.4,379.8C293.3,381.0 294.0,384.0 294.5,385.2C295.0,386.4 298.1,388.7 297.7,389.4C297.3,390.1 288.3,390.2 291.3,390.5C294.3,390.8 321.2,391.3 322.0,391.6C322.8,391.9 297.7,392.2 297.7,392.6C297.7,393.0 322.5,394.3 322.0,394.7C321.5,395.1 298.3,395.4 293.4,395.8C288.5,396.2 279.1,397.5 282.7,397.9C286.3,398.3 321.7,398.6 322.0,399.0C322.3,399.4 284.9,400.6 284.9,401.1C284.9,401.6 324.4,402.8 322.0,403.3C319.6,403.8 273.3,404.9 265.7,405.4C258.1,405.9 258.5,407.1 261.4,407.5C264.3,407.9 288.0,408.2 289.1,408.6C290.2,409.0 272.7,410.0 270.0,410.7C267.3,411.4 261.3,413.2 267.8,413.9C274.3,414.6 320.4,415.7 322.0,416.1C323.6,416.5 286.8,416.4 280.6,417.1C274.4,417.8 273.4,420.2 272.1,421.4C270.8,422.6 270.1,425.2 270.0,426.7C269.9,428.2 271.0,431.8 271.0,433.1C271.0,434.4 268.5,436.7 270.0,437.4C271.5,438.1 283.5,438.1 282.7,438.4C281.9,438.7 267.1,439.2 263.6,439.5C260.1,439.8 257.1,440.1 255.0,440.6C252.9,441.1 247.8,443.3 246.5,443.8C245.2,444.3 243.1,444.4 244.4,444.8C245.7,445.2 256.9,446.6 257.2,447.0C257.5,447.4 248.6,447.6 246.5,448.0C244.4,448.4 241.2,449.8 240.5,450.0" stroke="#111"/>
<path d="M241.3,272.8C241.4,274.6 241.5,284.5 241.8,287.0C242.1,289.5 243.0,291.7 243.7,292.8C244.4,293.9 245.6,295.1 247.5,295.6C249.4,296.1 255.4,296.4 259.0,296.6C262.6,296.8 277.3,297.3 276.1,297.5C274.9,297.7 251.3,298.1 249.4,298.5C247.5,298.9 261.1,300.0 260.9,300.4C260.7,300.8 247.3,300.8 247.5,301.3C247.7,301.8 262.8,303.7 262.8,304.2C262.8,304.7 249.7,304.6 247.5,305.1C245.3,305.6 245.8,305.5 245.6,308.0C245.4,310.5 245.5,322.0 245.6,325.1C245.7,328.2 246.1,331.5 246.6,332.8C247.1,334.1 248.3,335.1 249.4,335.6C250.5,336.1 251.8,336.6 255.1,337.0C258.4,337.4 276.8,338.2 276.1,338.5C275.4,338.8 253.5,338.9 249.4,339.4C245.3,339.9 244.7,340.8 243.7,342.3C242.7,343.8 241.5,349.3 241.3,351.3C241.1,353.3 241.8,356.8 242.3,358.5C242.8,360.2 244.6,363.6 245.5,364.9C246.4,366.2 249.0,368.4 249.7,369.2C250.4,370.0 249.6,371.0 250.8,371.3C252.0,371.6 259.3,371.7 259.3,371.9C259.3,372.1 252.0,372.3 250.8,373.0C249.6,373.7 250.0,376.3 249.7,377.7C249.4,379.1 249.0,382.2 248.7,384.1C248.4,386.0 247.9,391.3 247.6,392.6C247.3,393.9 245.6,394.0 246.5,394.7C247.4,395.4 254.7,397.4 255.0,397.9C255.3,398.4 248.4,398.6 248.7,399.0C249.0,399.4 254.5,400.7 257.2,401.1C259.9,401.5 271.6,401.9 270.0,402.2C268.4,402.5 248.0,403.0 244.4,403.3C240.8,403.6 241.7,403.0 241.3,404.3C240.9,405.6 236.4,412.6 241.3,413.9C246.2,415.2 280.5,414.7 280.6,415.0C280.7,415.3 247.2,415.7 242.3,416.1C237.4,416.5 241.4,414.0 241.3,418.2C241.2,422.4 241.3,446.0 241.3,450.0" stroke="#d83a46"/>
</g>
<rect x="51.5" y="271.5" width="185.0" height="180.0" fill="none" stroke="#3a3a3a" stroke-width="1.25"/>
<rect x="240.5" y="271.5" width="82.0" height="180.0" fill="none" stroke="#3a3a3a" stroke-width="1.25"/>
<path d="M51.5,433.1h3M236.5,433.1h-3M240.5,433.1h3M322.5,433.1h-3M51.5,412.6h2M236.5,412.6h-2M240.5,412.6h2M322.5,412.6h-2M51.5,392.2h3M236.5,392.2h-3M240.5,392.2h3M322.5,392.2h-3M51.5,371.8h2M236.5,371.8h-2M240.5,371.8h2M322.5,371.8h-2M51.5,351.3h3M236.5,351.3h-3M240.5,351.3h3M322.5,351.3h-3M51.5,330.9h2M236.5,330.9h-2M240.5,330.9h2M322.5,330.9h-2M51.5,310.4h3M236.5,310.4h-3M240.5,310.4h3M322.5,310.4h-3M51.5,290.0h2M236.5,290.0h-2M240.5,290.0h2M322.5,290.0h-2M78.6,451.5v-2M78.6,271.5v2M106.1,451.5v-3M106.1,271.5v3M133.6,451.5v-2M133.6,271.5v2M161.1,451.5v-3M161.1,271.5v3M188.6,451.5v-2M188.6,271.5v2M216.2,451.5v-3M216.2,271.5v3M250.8,451.5v-2M250.8,271.5v2M261.0,451.5v-3M261.0,271.5v3M271.2,451.5v-2M271.2,271.5v2M281.5,451.5v-3M281.5,271.5v3M291.8,451.5v-2M291.8,271.5v2M302.0,451.5v-3M302.0,271.5v3M312.2,451.5v-2M312.2,271.5v2" stroke="#333" stroke-width="1" fill="none"/>
<text x="47.5" y="436.9" text-anchor="end" font-size="10.5">-4</text>
<text x="47.5" y="396.0" text-anchor="end" font-size="10.5">-2</text>
<text x="47.5" y="355.1" text-anchor="end" font-size="10.5">0</text>
<text x="47.5" y="314.2" text-anchor="end" font-size="10.5">2</text>
<text x="50.6" y="463.2" text-anchor="middle" font-size="11">0.00</text>
<text x="105.6" y="463.2" text-anchor="middle" font-size="11">0.06</text>
<text x="160.6" y="463.2" text-anchor="middle" font-size="11">0.12</text>
<text x="215.7" y="463.2" text-anchor="middle" font-size="11">0.18</text>
<text x="240.5" y="463.2" text-anchor="middle" font-size="11">0</text>
<text x="261.0" y="463.2" text-anchor="middle" font-size="11">2</text>
<text x="281.5" y="463.2" text-anchor="middle" font-size="11">4</text>
<text x="302.0" y="463.2" text-anchor="middle" font-size="11">6</text>
<text x="322.5" y="463.2" text-anchor="middle" font-size="11">8</text>
<text x="139.4" y="477.0" text-anchor="middle" font-size="12">k-Point distance (2π/Å)</text>
<text x="284.6" y="476.5" text-anchor="middle" font-size="12">DOS (1/eV)</text>
<text transform="translate(32.5,353.0) rotate(-90)" text-anchor="middle" font-size="15.7">Energy (eV)</text>
<text x="53.0" y="266.7" text-anchor="middle" class="ser" font-size="19.5">Γ</text>
<text x="235.5" y="266.7" text-anchor="middle" class="ser" font-size="19.5">Γ</text>
<text x="129.5" y="266.7" text-anchor="middle" font-size="17.5">K</text>
<text x="168.5" y="266.7" text-anchor="middle" font-size="17.5">M</text>
<text x="2" y="272.8" font-size="23">(c)</text>
<rect x="186.5" y="276.5" width="45.0" height="15.0" fill="#fff" stroke="#999" stroke-width="1"/>
<text x="209.0" y="288.0" text-anchor="middle" font-size="12">g-GeSi<tspan font-size="9">3</tspan></text>
<rect x="282.5" y="276.5" width="36.0" height="29.0" fill="#fff" stroke="#999" stroke-width="1"/>
<line x1="285.0" y1="284.8" x2="295.5" y2="284.8" stroke="#111" stroke-width="1"/>
<line x1="285.0" y1="297.5" x2="295.5" y2="297.5" stroke="#d83a46" stroke-width="1.1"/>
<text x="297.5" y="288.3" font-size="10.5">total</text>
<text x="297.5" y="300.5" font-size="10.5">p<tspan font-size="9.8" dy="2">z</tspan></text>
<clipPath id="cbd"><rect x="409.5" y="270.5" width="185.0" height="180.0"/></clipPath>
<clipPath id="cdd"><rect x="598.5" y="270.5" width="82.0" height="180.0"/></clipPath>
<g clip-path="url(#cbd)" fill="none" stroke="#111" stroke-width="1.2">
<path d="M409.6,275.2C411.3,274.9 416.8,274.2 419.8,273.5C422.8,272.8 426.2,271.3 427.5,270.9"/>
<path d="M409.6,275.2C412.4,275.4 421.4,275.9 426.3,276.4C431.2,276.9 435.2,277.7 439.1,278.0C443.0,278.3 447.0,278.6 449.4,278.2C451.8,277.8 452.0,276.6 453.2,275.4C454.4,274.2 455.9,271.6 456.4,270.9"/>
<path d="M409.6,312.0C412.4,311.2 422.2,309.4 426.3,307.5C430.4,305.6 431.6,302.9 434.0,300.5C436.4,298.1 438.0,296.3 440.4,293.4C442.8,290.5 446.2,285.2 448.1,283.1C450.0,281.0 449.2,281.3 452.0,280.8C454.8,280.3 460.5,280.4 464.8,279.9C469.1,279.4 473.7,279.1 477.6,277.7C481.5,276.3 486.4,272.6 488.2,271.6"/>
<path d="M409.6,302.1C413.5,301.9 426.1,301.5 432.7,301.1C439.3,300.7 444.5,300.0 449.4,299.8C454.3,299.6 457.9,299.7 462.2,300.1C466.5,300.5 470.8,301.3 475.1,302.4C479.5,303.5 486.1,305.9 488.3,306.6"/>
<path d="M409.6,321.7C411.3,321.4 416.0,321.3 419.8,319.7C423.6,318.1 428.4,314.7 432.7,312.0C437.0,309.3 441.2,306.4 445.5,303.5C449.8,300.6 454.1,297.6 458.4,294.7C462.7,291.8 467.3,288.6 471.2,286.3C475.1,284.0 478.6,281.5 481.5,280.6C484.4,279.7 487.2,280.8 488.3,280.8"/>
<path d="M409.6,322.3C412.2,321.7 419.9,320.6 425.0,318.5C430.1,316.4 434.4,313.0 440.0,309.5C445.6,306.0 453.2,300.8 458.4,297.5C463.6,294.2 467.3,291.9 471.2,289.5C475.1,287.1 479.1,284.4 482.0,283.0C484.9,281.6 487.2,281.6 488.3,281.3"/>
<path d="M409.6,322.7C412.4,322.1 420.3,321.3 426.3,319.0C432.3,316.7 440.1,312.0 445.5,309.0C450.9,306.0 454.1,303.6 458.4,301.0C462.7,298.4 466.9,295.8 471.2,293.5C475.5,291.2 481.2,288.2 484.1,287.0C487.0,285.8 487.6,286.4 488.3,286.3"/>
<path d="M409.6,330.4C411.0,330.2 415.1,330.0 417.8,329.0C420.5,328.0 422.3,326.9 426.0,324.5C429.7,322.1 434.6,318.2 440.0,314.5C445.4,310.8 453.1,306.1 458.4,302.5C463.7,298.9 468.1,295.5 472.0,293.0C475.9,290.5 479.3,288.6 482.0,287.5C484.7,286.4 487.2,286.5 488.3,286.3"/>
<path d="M409.6,337.8C412.5,337.0 422.5,334.4 427.2,333.1C431.9,331.8 433.7,331.7 437.8,330.0C441.9,328.3 447.5,325.4 452.0,322.9C456.5,320.4 460.5,317.3 464.8,315.2C469.1,313.1 473.7,311.5 477.6,310.1C481.5,308.7 486.5,307.2 488.3,306.6"/>
<path d="M488.3,281.3C490.6,280.6 497.9,278.7 502.4,277.2C506.9,275.7 511.9,273.4 515.4,272.3C518.9,271.2 522.2,270.9 523.6,270.6"/>
<path d="M488.3,281.3C489.6,282.2 492.9,284.6 495.8,287.0C498.7,289.4 502.3,293.9 505.6,296.0C508.9,298.1 511.6,298.9 515.4,299.7C519.2,300.5 523.9,300.8 528.5,300.9C533.1,301.0 538.0,300.1 543.2,300.1C548.4,300.1 554.2,300.6 559.6,300.9C565.0,301.2 570.0,301.4 575.9,301.7C581.8,302.0 591.6,302.4 594.7,302.5"/>
<path d="M488.3,306.6C490.6,306.5 497.9,305.2 502.4,305.8C506.9,306.4 511.0,308.5 515.4,309.9C519.8,311.3 523.9,314.3 528.5,314.0C533.1,313.7 538.0,309.3 543.2,308.2C548.4,307.1 554.2,307.4 559.6,307.4C565.0,307.4 570.0,307.9 575.9,308.2C581.8,308.5 591.6,308.9 594.7,309.0"/>
<path d="M528.5,300.9C531.0,301.0 538.0,300.5 543.2,301.7C548.4,302.9 554.2,305.8 559.6,308.2C565.0,310.6 570.0,314.2 575.9,316.4C581.8,318.6 591.6,320.5 594.7,321.3"/>
<path d="M528.5,314.0C532.3,315.2 543.5,318.9 551.4,321.3C559.3,323.8 568.7,326.9 575.9,328.7C583.1,330.5 591.6,331.4 594.7,332.0"/>
<path d="M488.3,306.6C490.6,308.0 497.9,312.2 502.4,314.8C506.9,317.4 511.0,319.7 515.4,322.1C519.8,324.5 526.3,328.0 528.5,329.2"/>
<path d="M528.5,329.2C531.0,329.3 538.0,329.3 543.2,329.8C548.4,330.3 554.2,331.2 559.6,332.0C565.0,332.8 570.0,333.6 575.9,334.4C581.8,335.2 591.6,336.5 594.7,336.9"/>
<path d="M528.5,329.8C531.0,329.9 538.0,329.9 543.2,330.4C548.4,330.9 554.2,331.8 559.6,332.6C565.0,333.4 570.0,334.2 575.9,335.0C581.8,335.8 591.6,337.1 594.7,337.5"/>
<path d="M540.0,270.6C541.9,272.0 548.1,275.8 551.4,278.8C554.7,281.8 556.9,285.1 559.6,288.6C562.3,292.2 564.8,296.6 567.8,300.1C570.8,303.7 574.3,306.9 577.6,309.9C580.9,312.9 584.5,316.2 587.4,318.1C590.2,320.0 593.5,320.8 594.7,321.3"/>
<path d="M558.0,290.0C559.5,291.8 564.0,297.3 567.0,301.0C570.0,304.7 572.7,308.7 576.0,312.0C579.3,315.3 583.9,318.8 587.0,321.0C590.1,323.2 593.4,324.3 594.7,325.0"/>
<path d="M554.5,270.5L560.5,276.0"/>
<path d="M557.0,270.5L562.5,276.0"/>
<path d="M574.0,270.5L594.5,274.5"/>
<path d="M578.0,270.5L594.5,276.5"/>
<path d="M409.7,337.8C412.6,337.7 420.9,337.0 427.2,337.1C433.5,337.2 440.7,337.5 447.4,338.5C454.1,339.5 460.8,341.2 467.6,343.2C474.4,345.2 484.9,349.1 488.4,350.3"/>
<path d="M409.7,373.5C412.6,373.1 420.9,372.5 427.2,371.4C433.5,370.3 440.7,368.6 447.4,366.7C454.1,364.8 460.8,362.7 467.6,360.0C474.4,357.3 484.9,351.9 488.4,350.3"/>
<path d="M488.3,350.0C490.6,348.7 497.3,344.9 502.4,342.4C507.5,339.9 514.4,337.2 518.7,335.0C523.1,332.8 526.9,330.2 528.5,329.2"/>
<path d="M488.3,350.0C491.5,351.9 500.6,357.6 507.3,361.2C514.0,364.8 525.2,370.0 528.8,371.8"/>
<path d="M528.8,371.8C532.6,371.8 543.5,371.7 551.4,371.8C559.2,371.9 568.7,372.3 575.9,372.6C583.1,372.9 591.6,373.3 594.7,373.4"/>
<path d="M528.8,372.4C532.6,372.4 543.5,372.3 551.4,372.4C559.2,372.5 568.7,372.9 575.9,373.2C583.1,373.5 591.6,373.9 594.7,374.0"/>
<path d="M409.7,364.0C411.5,364.1 416.0,364.0 420.5,364.7C425.0,365.4 431.0,366.2 436.6,368.1C442.2,370.0 448.9,373.4 454.1,376.1C459.3,378.8 463.6,381.9 467.6,384.2C471.6,386.5 474.9,388.2 478.3,390.0C481.8,391.8 486.6,394.0 488.3,394.8"/>
<path d="M409.7,364.0C411.1,364.4 414.9,365.1 417.8,366.7C420.7,368.3 422.9,369.6 427.2,373.5C431.4,377.4 439.6,386.9 443.3,390.0C447.0,393.1 446.3,391.1 449.2,392.0C452.1,392.9 457.0,394.9 460.5,395.6C464.0,396.3 467.0,396.2 470.3,396.0C473.6,395.8 477.2,394.3 480.2,394.1C483.2,393.9 486.9,394.7 488.3,394.8"/>
<path d="M409.7,373.5C412.6,373.8 420.9,374.4 427.2,375.5C433.5,376.6 440.7,378.5 447.4,380.2C454.1,381.9 462.5,384.0 467.6,385.6C472.8,387.2 474.9,388.7 478.3,389.6C481.8,390.6 486.6,391.0 488.3,391.3"/>
<path d="M409.7,374.2C412.6,374.6 420.9,375.1 427.2,376.3C433.5,377.5 440.7,379.5 447.4,381.2C454.1,382.9 462.5,385.1 467.6,386.6C472.8,388.1 474.9,389.6 478.3,390.4C481.8,391.2 486.6,391.1 488.3,391.3"/>
<path d="M409.8,391.3C412.9,391.8 421.5,393.0 428.1,394.1C434.7,395.2 442.2,396.8 449.2,397.7C456.2,398.6 463.8,399.9 470.3,399.8C476.8,399.7 485.3,397.5 488.3,397.0"/>
<path d="M409.8,395.6C412.9,395.8 421.5,396.3 428.1,397.0C434.7,397.7 442.2,399.1 449.2,399.8C456.2,400.5 463.8,401.7 470.3,401.2C476.8,400.7 485.3,397.7 488.3,397.0"/>
<path d="M409.8,396.3C411.7,396.6 416.9,396.5 421.1,398.4C425.3,400.3 430.4,404.3 435.1,407.5C439.8,410.7 444.5,414.6 449.2,417.4C453.9,420.2 458.6,422.4 463.3,424.4C468.0,426.4 473.2,428.3 477.4,429.3C481.6,430.3 484.1,430.2 488.3,430.2C492.5,430.2 497.3,430.3 502.4,429.3C507.5,428.3 514.3,426.0 518.7,424.4C523.1,422.8 527.1,420.6 528.8,419.9"/>
<path d="M409.8,418.5C412.9,418.5 422.7,418.2 428.1,418.5C433.5,418.8 438.0,419.2 442.2,420.2C446.4,421.2 449.9,422.5 453.4,424.4C456.9,426.3 460.0,428.8 463.3,431.4C466.6,434.0 469.5,436.7 473.1,439.9C476.7,443.1 483.0,448.7 485.0,450.5"/>
<path d="M470.3,389.2C473.3,390.5 482.1,393.9 488.3,397.0C494.5,400.1 500.6,404.3 507.3,408.1C514.0,411.9 525.2,417.9 528.8,419.9"/>
<path d="M528.8,371.8C525.8,373.3 517.2,377.7 510.5,380.8C503.8,383.9 492.0,389.0 488.3,390.6"/>
<path d="M488.3,390.6C490.6,390.6 497.3,391.7 502.4,390.6C507.5,389.5 514.3,385.4 518.7,384.0C523.1,382.6 524.7,383.3 528.8,382.4C532.9,381.4 538.1,380.1 543.2,378.3C548.3,376.5 554.2,373.7 559.6,371.8C565.0,369.9 570.0,368.3 575.9,366.9C581.8,365.5 591.6,364.2 594.7,363.6"/>
<path d="M528.8,382.4C531.2,383.2 538.1,385.9 543.2,387.3C548.3,388.7 554.2,389.8 559.6,390.6C565.0,391.4 570.0,392.1 575.9,392.2C581.8,392.3 591.6,391.5 594.7,391.4"/>
<path d="M488.3,392.2C490.6,392.5 495.6,393.3 502.4,393.9C509.1,394.4 522.0,396.1 528.8,395.5C535.6,394.9 538.1,392.8 543.2,390.6C548.3,388.4 554.2,384.8 559.6,382.4C565.0,379.9 570.0,377.4 575.9,375.9C581.8,374.4 591.6,373.8 594.7,373.4"/>
<path d="M488.3,396.3C490.6,396.0 495.6,394.6 502.4,394.7C509.1,394.8 522.0,396.4 528.8,396.8C535.6,397.2 538.9,397.6 543.2,397.1C547.5,396.6 550.6,396.1 554.7,393.9C558.8,391.7 563.4,387.8 567.8,384.0C572.1,380.2 576.3,374.4 580.8,371.0C585.3,367.6 592.4,364.8 594.7,363.6"/>
<path d="M567.8,335.0C570.0,335.3 576.3,336.2 580.8,336.6C585.3,337.0 592.4,337.4 594.7,337.5"/>
<path d="M571.0,405.0C573.2,404.0 580.1,400.2 584.1,398.8C588.1,397.4 592.9,396.7 594.7,396.3"/>
<path d="M528.8,395.0C531.2,395.4 538.9,397.5 543.2,397.5C547.5,397.5 552.8,395.4 554.7,395.0"/>
<path d="M528.8,419.9C531.2,419.4 538.1,418.8 543.2,417.1C548.3,415.4 554.2,412.4 559.6,409.7C565.0,407.0 571.0,402.9 575.9,400.7C580.8,398.5 585.9,397.1 589.0,396.3C592.1,395.5 593.8,395.9 594.7,395.8"/>
<path d="M528.8,420.5C531.2,420.1 538.1,419.5 543.2,417.8C548.3,416.1 554.2,413.2 559.6,410.5C565.0,407.8 571.0,403.8 575.9,401.5C580.8,399.2 585.9,397.8 589.0,397.0C592.1,396.2 593.8,396.6 594.7,396.5"/>
<path d="M490.9,450.6C492.8,449.8 497.8,446.9 502.4,445.7C507.0,444.5 514.3,443.7 518.7,443.2C523.1,442.7 526.1,443.4 528.8,442.7C531.5,442.0 531.8,441.6 535.0,439.1C538.2,436.6 544.0,430.7 548.1,427.7C552.2,424.7 555.0,422.7 559.6,421.2C564.2,419.7 570.0,419.1 575.9,418.7C581.8,418.3 591.6,418.7 594.7,418.7"/>
</g>
<line x1="409.5" y1="350.6" x2="594.5" y2="350.6" stroke="#444" stroke-width="1.1" stroke-dasharray="3.5 2.85"/>
<line x1="488.5" y1="270.5" x2="488.5" y2="450.5" stroke="#222" stroke-width="0.9"/>
<line x1="528.5" y1="270.5" x2="528.5" y2="450.5" stroke="#222" stroke-width="0.9"/>
<g clip-path="url(#cdd)" fill="none" stroke-width="1.1" stroke-linejoin="round">
<path d="M634.1,271.8C634.8,272.0 638.4,273.2 639.8,273.7C641.2,274.2 640.0,275.1 645.0,275.5C650.0,275.9 680.0,276.4 680.0,276.7C680.0,277.0 651.5,277.4 645.0,277.6C638.5,277.8 628.8,278.3 628.4,278.5C628.0,278.7 643.1,279.2 641.7,279.4C640.3,279.6 620.5,279.9 617.0,280.4C613.5,280.9 614.4,282.5 614.1,283.2C613.9,283.9 614.4,285.6 615.0,286.1C615.6,286.6 618.2,286.5 618.9,287.0C619.6,287.5 620.1,289.2 620.8,289.9C621.5,290.6 623.9,292.1 624.6,292.8C625.3,293.5 625.5,295.1 626.5,295.6C627.5,296.1 630.3,296.4 632.2,296.6C634.1,296.8 639.5,297.2 641.7,297.5C643.9,297.8 645.2,298.7 650.0,299.0C654.8,299.3 680.0,299.4 680.0,299.6C680.0,299.8 650.0,300.1 650.0,300.3C650.0,300.5 678.8,300.8 680.0,301.0C681.2,301.2 660.0,301.6 660.0,302.0C660.0,302.4 680.7,303.6 679.8,304.0C678.9,304.4 653.1,304.8 653.1,305.1C653.1,305.4 678.8,305.9 679.8,306.1C680.8,306.3 660.8,306.8 660.8,307.0C660.8,307.2 680.8,307.8 679.8,308.0C678.8,308.2 656.7,308.6 653.1,309.0C649.5,309.4 650.0,310.4 651.2,310.9C652.4,311.4 662.9,312.4 662.7,312.8C662.5,313.2 651.2,313.2 649.3,313.7C647.4,314.2 648.1,315.8 647.4,316.6C646.7,317.4 645.0,319.7 643.6,320.4C642.2,321.1 637.2,321.8 636.0,322.3C634.8,322.8 634.1,323.6 634.1,324.2C634.1,324.8 635.3,326.2 636.0,327.0C636.7,327.8 639.1,330.1 639.8,330.9C640.5,331.7 636.7,333.0 641.7,333.7C646.7,334.4 680.8,336.1 679.8,336.6C678.8,337.1 641.5,337.0 634.1,337.5C626.7,338.0 624.1,339.4 620.8,340.4C617.5,341.3 610.0,343.9 607.4,345.1C604.8,346.3 600.8,349.2 599.8,349.9C598.8,350.6 598.4,349.7 599.5,350.6C600.6,351.6 606.3,355.8 608.8,357.5C611.3,359.2 615.9,363.0 619.4,363.9C622.9,364.8 633.6,364.5 636.5,364.9C639.4,365.3 639.7,366.6 642.9,367.0C646.1,367.4 657.4,367.6 662.1,368.1C666.8,368.6 684.5,370.9 680.2,371.3C675.9,371.7 628.0,371.2 628.0,371.3C628.0,371.4 676.2,372.0 680.2,372.4C684.2,372.8 663.0,373.8 659.9,374.5C656.8,375.2 655.2,377.0 655.7,377.7C656.2,378.4 661.8,379.3 664.2,379.8C666.6,380.3 675.9,381.5 674.8,382.0C673.7,382.5 657.6,383.4 655.7,384.1C653.8,384.8 659.9,386.6 659.9,387.3C659.9,388.0 654.9,389.0 655.7,389.4C656.5,389.8 663.2,390.1 666.3,390.5C669.4,390.9 681.0,392.1 680.2,392.6C679.4,393.1 659.9,394.0 659.9,394.7C659.9,395.4 684.7,397.4 680.2,397.9C675.7,398.4 631.3,398.7 623.7,399.0C616.1,399.3 616.7,399.8 619.4,400.1C622.1,400.4 643.1,400.7 645.0,401.1C646.9,401.5 636.8,402.8 634.4,403.3C632.0,403.8 627.3,404.6 625.8,405.4C624.3,406.2 623.1,408.6 622.6,409.7C622.1,410.8 621.9,412.8 621.6,413.9C621.3,415.0 613.2,417.6 620.5,418.2C627.8,418.8 677.9,418.3 680.2,418.6C682.5,418.9 644.9,419.6 638.6,420.3C632.3,421.1 631.4,423.5 630.1,424.6C628.8,425.7 627.2,428.1 628.0,428.8C628.8,429.5 638.6,430.2 636.5,430.5C634.4,430.8 614.4,430.4 610.9,431.0C607.4,431.6 609.1,434.1 608.8,435.2C608.5,436.3 608.3,438.7 608.8,439.5C609.3,440.3 608.7,441.1 613.0,441.6C617.3,442.1 643.4,443.4 642.9,443.8C642.4,444.2 613.9,444.4 608.8,444.8C603.7,445.2 603.7,446.4 602.4,447.0C601.1,447.6 599.0,449.6 598.5,450.0" stroke="#111"/>
<path d="M599.3,271.8C599.4,273.7 599.5,284.1 599.8,287.0C600.1,289.9 601.0,293.4 601.7,294.7C602.4,296.0 603.8,297.0 605.5,297.5C607.2,298.0 605.7,298.3 615.0,298.5C624.3,298.7 676.9,299.1 680.0,299.3C683.1,299.5 640.0,299.8 640.0,300.0C640.0,300.2 683.6,300.6 680.0,300.8C676.4,301.0 620.3,301.0 611.2,301.3C602.1,301.6 606.9,302.8 607.4,303.2C607.9,303.6 615.0,303.8 615.0,304.2C615.0,304.6 607.4,305.8 607.4,306.1C607.4,306.5 614.9,306.8 615.0,307.0C615.1,307.2 609.5,307.2 608.4,308.0C607.3,308.8 606.7,311.6 606.5,313.7C606.3,315.8 606.4,323.0 606.5,325.1C606.6,327.2 606.8,329.7 607.4,330.9C608.0,332.1 609.8,334.1 611.2,334.7C612.6,335.3 613.7,335.4 618.9,335.6C624.1,335.8 654.5,336.3 653.1,336.6C651.7,336.9 613.8,337.4 607.4,338.1C601.0,338.8 602.7,340.7 601.7,342.3C600.7,343.9 599.2,348.6 599.3,350.6C599.4,352.6 601.5,356.7 602.4,358.5C603.3,360.3 605.9,363.7 606.7,364.9C607.5,366.1 608.0,367.4 608.8,368.1C609.6,368.8 613.5,369.8 613.0,370.2C612.5,370.6 604.2,371.1 604.5,371.3C604.8,371.5 614.4,371.4 615.2,371.7C616.0,372.0 611.7,372.6 610.9,373.4C610.1,374.1 608.9,376.4 608.8,377.7C608.7,379.0 609.9,382.8 609.9,384.1C609.9,385.4 608.7,387.5 608.8,388.4C608.9,389.3 610.1,390.8 610.9,391.6C611.7,392.4 613.1,394.2 615.2,394.7C617.3,395.2 624.0,395.5 628.0,395.8C632.0,396.1 648.4,396.6 647.1,396.9C645.8,397.2 623.1,397.7 617.3,397.9C611.4,398.1 602.5,398.3 600.3,398.6C598.0,398.9 599.4,397.8 599.3,400.1C599.2,402.4 598.4,414.8 599.3,417.1C600.2,419.4 596.6,418.0 606.7,418.2C616.8,418.4 681.0,418.3 680.2,418.6C679.4,418.9 610.4,419.8 600.3,420.3C590.2,420.8 599.4,418.7 599.3,422.4C599.2,426.1 599.3,446.6 599.3,450.0" stroke="#d83a46"/>
</g>
<rect x="409.5" y="270.5" width="185.0" height="180.0" fill="none" stroke="#3a3a3a" stroke-width="1.25"/>
<rect x="598.5" y="270.5" width="82.0" height="180.0" fill="none" stroke="#3a3a3a" stroke-width="1.25"/>
<path d="M409.5,432.2h3M594.5,432.2h-3M598.5,432.2h3M680.5,432.2h-3M409.5,411.8h2M594.5,411.8h-2M598.5,411.8h2M680.5,411.8h-2M409.5,391.4h3M594.5,391.4h-3M598.5,391.4h3M680.5,391.4h-3M409.5,371.0h2M594.5,371.0h-2M598.5,371.0h2M680.5,371.0h-2M409.5,350.6h3M594.5,350.6h-3M598.5,350.6h3M680.5,350.6h-3M409.5,330.2h2M594.5,330.2h-2M598.5,330.2h2M680.5,330.2h-2M409.5,309.8h3M594.5,309.8h-3M598.5,309.8h3M680.5,309.8h-3M409.5,289.4h2M594.5,289.4h-2M598.5,289.4h2M680.5,289.4h-2M428.3,450.5v-2M428.3,270.5v2M447.3,450.5v-3M447.3,270.5v3M466.3,450.5v-2M466.3,270.5v2M485.3,450.5v-3M485.3,270.5v3M504.3,450.5v-2M504.3,270.5v2M523.3,450.5v-3M523.3,270.5v3M542.3,450.5v-2M542.3,270.5v2M561.3,450.5v-3M561.3,270.5v3M580.3,450.5v-2M580.3,270.5v2M608.8,450.5v-2M608.8,270.5v2M619.0,450.5v-3M619.0,270.5v3M629.2,450.5v-2M629.2,270.5v2M639.5,450.5v-3M639.5,270.5v3M649.8,450.5v-2M649.8,270.5v2M660.0,450.5v-3M660.0,270.5v3M670.2,450.5v-2M670.2,270.5v2" stroke="#333" stroke-width="1" fill="none"/>
<text x="405.5" y="436.0" text-anchor="end" font-size="10.5">-4</text>
<text x="405.5" y="395.2" text-anchor="end" font-size="10.5">-2</text>
<text x="405.5" y="354.4" text-anchor="end" font-size="10.5">0</text>
<text x="405.5" y="313.6" text-anchor="end" font-size="10.5">2</text>
<text x="408.8" y="462.4" text-anchor="middle" font-size="11">0.00</text>
<text x="446.8" y="462.4" text-anchor="middle" font-size="11">0.04</text>
<text x="484.8" y="462.4" text-anchor="middle" font-size="11">0.08</text>
<text x="522.8" y="462.4" text-anchor="middle" font-size="11">0.12</text>
<text x="560.8" y="462.4" text-anchor="middle" font-size="11">0.16</text>
<text x="598.5" y="462.4" text-anchor="middle" font-size="11">0</text>
<text x="619.0" y="462.4" text-anchor="middle" font-size="11">2</text>
<text x="639.5" y="462.4" text-anchor="middle" font-size="11">4</text>
<text x="660.0" y="462.4" text-anchor="middle" font-size="11">6</text>
<text x="680.5" y="462.4" text-anchor="middle" font-size="11">8</text>
<text x="503.6" y="476.0" text-anchor="middle" font-size="12"><tspan font-weight="bold">k</tspan>-Point distance (2π/Å)</text>
<text x="642.6" y="475.5" text-anchor="middle" font-size="12">DOS (1/eV)</text>
<text transform="translate(390.5,352.4) rotate(-90)" text-anchor="middle" font-size="15.7">Energy (eV)</text>
<text x="411.0" y="265.7" text-anchor="middle" class="ser" font-size="19.5">Γ</text>
<text x="593.5" y="265.7" text-anchor="middle" class="ser" font-size="19.5">Γ</text>
<text x="488.5" y="265.7" text-anchor="middle" font-size="17.5">K</text>
<text x="528.5" y="265.7" text-anchor="middle" font-size="17.5">M</text>
<text x="363.5" y="274.8" font-size="23">(d)</text>
<rect x="543.5" y="276.5" width="47.0" height="14.0" fill="#fff" stroke="#999" stroke-width="1"/>
<text x="567.0" y="287.0" text-anchor="middle" font-size="12">g-Ge<tspan font-size="9">3</tspan>Si</text>
<rect x="640.5" y="274.5" width="36.0" height="28.0" fill="#fff" stroke="#999" stroke-width="1"/>
<line x1="643.0" y1="282.8" x2="653.5" y2="282.8" stroke="#111" stroke-width="1"/>
<line x1="643.0" y1="295.5" x2="653.5" y2="295.5" stroke="#d83a46" stroke-width="1.1"/>
<text x="655.5" y="286.3" font-size="10.5">total</text>
<text x="655.5" y="298.5" font-size="10.5">p<tspan font-size="9.8" dy="2">z</tspan></text>
<line x1="51.5" y1="102.5" x2="61.0" y2="111.4" stroke="#222" stroke-width="1.1"/><path d="M64.6,114.8L59.5,112.9L62.4,109.8Z" fill="#222"/>
<rect x="54.5" y="117.5" width="53" height="28" fill="#fff" stroke="#888" stroke-width="1"/>
<line x1="56" y1="118" x2="56" y2="145" stroke="#ccc" stroke-width="1"/>
<line x1="58.5" y1="118" x2="58.5" y2="145" stroke="#222" stroke-width="1"/>
<line x1="59" y1="124.7" x2="107" y2="124.7" stroke="#555" stroke-width="1" stroke-dasharray="3 2.5"/>
<path d="M58.5,130.3C61,131 64,133.5 66,137C67.5,140 68.3,143 68.8,145" fill="none" stroke="#222" stroke-width="1"/>
<circle cx="58.5" cy="130.3" r="1.8" fill="#e02020"/>
<rect x="70.5" y="128.5" width="33" height="15" fill="#fff" stroke="#999" stroke-width="1"/>
<text x="87" y="139.2" text-anchor="middle" font-size="10">-0.018</text>
<line x1="129.5" y1="102.5" x2="142.7" y2="119.3" stroke="#222" stroke-width="1.1"/><path d="M145.8,123.2L141.1,120.6L144.4,118.0Z" fill="#222"/>
<rect x="118.5" y="126.5" width="57" height="46" fill="#fff" stroke="#888" stroke-width="1"/>
<line x1="119" y1="135.4" x2="175" y2="135.4" stroke="#555" stroke-width="1" stroke-dasharray="3 2.5"/>
<line x1="160.5" y1="127" x2="160.5" y2="172" stroke="#333" stroke-width="0.9"/>
<path d="M154.2,127L160.4,156.5L157,172M166.6,127L160.4,156.5L163.8,172M160.4,158L158.9,172M160.4,158L162.1,172" fill="none" stroke="#222" stroke-width="0.9"/>
<circle cx="160.4" cy="158.2" r="2.2" fill="#e02020"/>
<rect x="121.5" y="152.5" width="35" height="15" fill="#fff" stroke="#999" stroke-width="1"/>
<text x="139" y="163" text-anchor="middle" font-size="10">-0.075</text>
<line x1="483.8" y1="84.5" x2="486.0" y2="90.9" stroke="#222" stroke-width="1.1"/><path d="M487.2,94.2L484.6,91.4L487.5,90.4Z" fill="#222"/>
<rect x="471.5" y="68.5" width="31" height="14.5" fill="#fff" stroke="#999" stroke-width="1"/>
<text x="487.3" y="79.3" text-anchor="middle" font-size="10">0.155</text>
<line x1="412" y1="103.5" x2="417.8" y2="107.7" stroke="#222" stroke-width="1.1"/><path d="M420.6,109.8L416.9,108.9L418.7,106.5Z" fill="#222"/>
<rect x="421.5" y="104.5" width="35" height="14.5" fill="#fff" stroke="#999" stroke-width="1"/>
<text x="439" y="115.6" text-anchor="middle" font-size="10">-0.120</text>
</svg></body></html>
